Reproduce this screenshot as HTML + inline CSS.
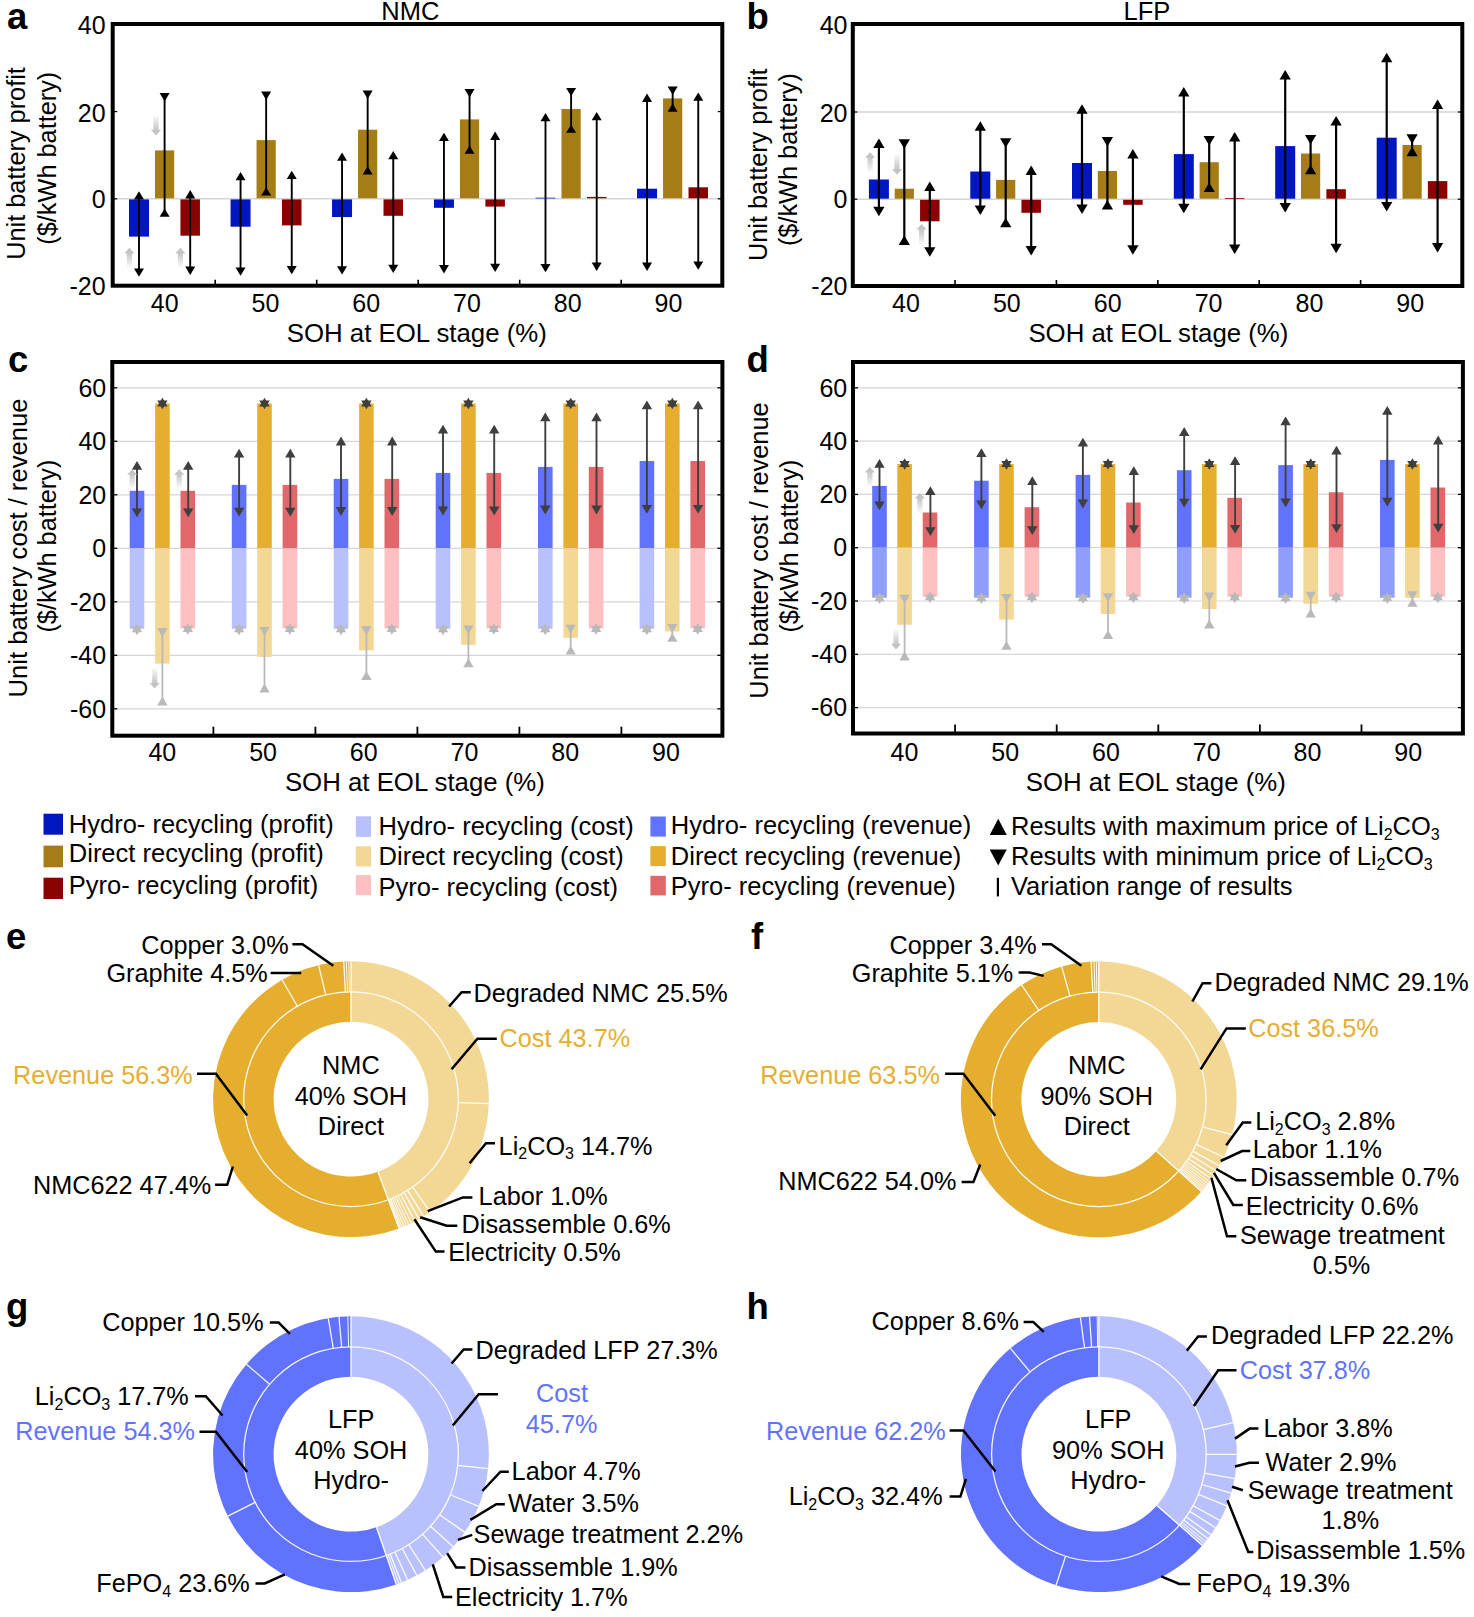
<!DOCTYPE html>
<html><head><meta charset="utf-8"><title>Figure</title>
<style>
html,body{margin:0;padding:0;background:#fff;}
body{width:1474px;height:1617px;overflow:hidden;}
svg{display:block;font-family:"Liberation Sans", sans-serif;}
</style></head>
<body>
<svg width="1474" height="1617" viewBox="0 0 1474 1617">
<rect width="1474" height="1617" fill="#fff"/>
<line x1="112.70" y1="198.80" x2="722.30" y2="198.80" stroke="#d6d6d6" stroke-width="1.4" />
<line x1="112.70" y1="111.60" x2="117.20" y2="111.60" stroke="#000" stroke-width="1.2" />
<line x1="717.80" y1="111.60" x2="722.30" y2="111.60" stroke="#000" stroke-width="1.2" />
<line x1="112.70" y1="198.80" x2="117.20" y2="198.80" stroke="#000" stroke-width="1.2" />
<line x1="717.80" y1="198.80" x2="722.30" y2="198.80" stroke="#000" stroke-width="1.2" />
<line x1="215.20" y1="279.70" x2="215.20" y2="285.70" stroke="#000" stroke-width="1.6" />
<line x1="316.70" y1="279.70" x2="316.70" y2="285.70" stroke="#000" stroke-width="1.6" />
<line x1="418.20" y1="279.70" x2="418.20" y2="285.70" stroke="#000" stroke-width="1.6" />
<line x1="519.70" y1="279.70" x2="519.70" y2="285.70" stroke="#000" stroke-width="1.6" />
<line x1="621.20" y1="279.70" x2="621.20" y2="285.70" stroke="#000" stroke-width="1.6" />
<rect x="129.00" y="199.40" width="20.00" height="37.20" fill="#0016c1" />
<rect x="155.00" y="150.40" width="19.20" height="47.90" fill="#a67c17" />
<rect x="180.45" y="199.40" width="19.50" height="36.30" fill="#8b0202" />
<line x1="139.00" y1="193.30" x2="139.00" y2="274.70" stroke="#000" stroke-width="1.9" />
<polygon points="139.00,191.30 144.00,199.60 134.00,199.60" fill="#000"/>
<polygon points="139.00,276.70 144.00,268.40 134.00,268.40" fill="#000"/>
<line x1="164.60" y1="94.10" x2="164.60" y2="215.70" stroke="#000" stroke-width="1.9" />
<polygon points="164.60,101.40 169.60,93.10 159.60,93.10" fill="#000"/>
<polygon points="164.60,208.40 169.60,216.70 159.60,216.70" fill="#000"/>
<line x1="190.20" y1="192.10" x2="190.20" y2="272.90" stroke="#000" stroke-width="1.9" />
<polygon points="190.20,190.10 195.20,198.40 185.20,198.40" fill="#000"/>
<polygon points="190.20,274.90 195.20,266.60 185.20,266.60" fill="#000"/>
<rect x="230.55" y="199.40" width="20.00" height="27.30" fill="#0016c1" />
<rect x="256.55" y="140.10" width="19.20" height="58.20" fill="#a67c17" />
<rect x="282.00" y="199.40" width="19.50" height="26.00" fill="#8b0202" />
<line x1="240.55" y1="173.90" x2="240.55" y2="273.70" stroke="#000" stroke-width="1.9" />
<polygon points="240.55,171.90 245.55,180.20 235.55,180.20" fill="#000"/>
<polygon points="240.55,275.70 245.55,267.40 235.55,267.40" fill="#000"/>
<line x1="266.15" y1="92.60" x2="266.15" y2="194.50" stroke="#000" stroke-width="1.9" />
<polygon points="266.15,99.90 271.15,91.60 261.15,91.60" fill="#000"/>
<polygon points="266.15,187.20 271.15,195.50 261.15,195.50" fill="#000"/>
<line x1="291.75" y1="172.70" x2="291.75" y2="272.20" stroke="#000" stroke-width="1.9" />
<polygon points="291.75,170.70 296.75,179.00 286.75,179.00" fill="#000"/>
<polygon points="291.75,274.20 296.75,265.90 286.75,265.90" fill="#000"/>
<rect x="332.05" y="199.40" width="20.00" height="17.60" fill="#0016c1" />
<rect x="358.05" y="129.70" width="19.20" height="68.60" fill="#a67c17" />
<rect x="383.50" y="199.40" width="19.50" height="16.40" fill="#8b0202" />
<line x1="342.05" y1="154.50" x2="342.05" y2="272.50" stroke="#000" stroke-width="1.9" />
<polygon points="342.05,152.50 347.05,160.80 337.05,160.80" fill="#000"/>
<polygon points="342.05,274.50 347.05,266.20 337.05,266.20" fill="#000"/>
<line x1="367.65" y1="91.60" x2="367.65" y2="173.60" stroke="#000" stroke-width="1.9" />
<polygon points="367.65,98.90 372.65,90.60 362.65,90.60" fill="#000"/>
<polygon points="367.65,166.30 372.65,174.60 362.65,174.60" fill="#000"/>
<line x1="393.25" y1="153.00" x2="393.25" y2="271.00" stroke="#000" stroke-width="1.9" />
<polygon points="393.25,151.00 398.25,159.30 388.25,159.30" fill="#000"/>
<polygon points="393.25,273.00 398.25,264.70 388.25,264.70" fill="#000"/>
<rect x="433.95" y="199.40" width="20.00" height="8.40" fill="#0016c1" />
<rect x="459.95" y="119.40" width="19.20" height="78.90" fill="#a67c17" />
<rect x="485.40" y="199.40" width="19.50" height="7.20" fill="#8b0202" />
<line x1="443.95" y1="134.70" x2="443.95" y2="271.40" stroke="#000" stroke-width="1.9" />
<polygon points="443.95,132.70 448.95,141.00 438.95,141.00" fill="#000"/>
<polygon points="443.95,273.40 448.95,265.10 438.95,265.10" fill="#000"/>
<line x1="469.55" y1="90.10" x2="469.55" y2="152.70" stroke="#000" stroke-width="1.9" />
<polygon points="469.55,97.40 474.55,89.10 464.55,89.10" fill="#000"/>
<polygon points="469.55,145.40 474.55,153.70 464.55,153.70" fill="#000"/>
<line x1="495.15" y1="133.60" x2="495.15" y2="270.00" stroke="#000" stroke-width="1.9" />
<polygon points="495.15,131.60 500.15,139.90 490.15,139.90" fill="#000"/>
<polygon points="495.15,272.00 500.15,263.70 490.15,263.70" fill="#000"/>
<rect x="535.50" y="197.70" width="20.00" height="0.80" fill="#0016c1" opacity="0.9"/>
<rect x="561.50" y="109.00" width="19.20" height="89.30" fill="#a67c17" />
<rect x="586.95" y="196.90" width="19.50" height="1.40" fill="#8b0202" />
<line x1="545.50" y1="115.00" x2="545.50" y2="270.20" stroke="#000" stroke-width="1.9" />
<polygon points="545.50,113.00 550.50,121.30 540.50,121.30" fill="#000"/>
<polygon points="545.50,272.20 550.50,263.90 540.50,263.90" fill="#000"/>
<line x1="571.10" y1="88.90" x2="571.10" y2="131.70" stroke="#000" stroke-width="1.9" />
<polygon points="571.10,96.20 576.10,87.90 566.10,87.90" fill="#000"/>
<polygon points="571.10,124.40 576.10,132.70 566.10,132.70" fill="#000"/>
<line x1="596.70" y1="114.00" x2="596.70" y2="268.90" stroke="#000" stroke-width="1.9" />
<polygon points="596.70,112.00 601.70,120.30 591.70,120.30" fill="#000"/>
<polygon points="596.70,270.90 601.70,262.60 591.70,262.60" fill="#000"/>
<rect x="637.05" y="188.70" width="20.00" height="9.60" fill="#0016c1" />
<rect x="663.05" y="98.40" width="19.20" height="99.90" fill="#a67c17" />
<rect x="688.50" y="187.30" width="19.50" height="11.00" fill="#8b0202" />
<line x1="647.05" y1="95.60" x2="647.05" y2="268.90" stroke="#000" stroke-width="1.9" />
<polygon points="647.05,93.60 652.05,101.90 642.05,101.90" fill="#000"/>
<polygon points="647.05,270.90 652.05,262.60 642.05,262.60" fill="#000"/>
<line x1="672.65" y1="87.60" x2="672.65" y2="110.80" stroke="#000" stroke-width="1.9" />
<polygon points="672.65,94.90 677.65,86.60 667.65,86.60" fill="#000"/>
<polygon points="672.65,103.50 677.65,111.80 667.65,111.80" fill="#000"/>
<line x1="698.25" y1="94.40" x2="698.25" y2="267.70" stroke="#000" stroke-width="1.9" />
<polygon points="698.25,92.40 703.25,100.70 693.25,100.70" fill="#000"/>
<polygon points="698.25,269.70 703.25,261.40 693.25,261.40" fill="#000"/>
<rect x="112.7" y="24.0" width="609.60" height="261.70" fill="none" stroke="#000" stroke-width="4"/>
<line x1="852.80" y1="112.00" x2="1462.30" y2="112.00" stroke="#d6d6d6" stroke-width="1.4" />
<line x1="852.80" y1="199.20" x2="1462.30" y2="199.20" stroke="#d6d6d6" stroke-width="1.4" />
<line x1="852.80" y1="112.00" x2="857.30" y2="112.00" stroke="#000" stroke-width="1.2" />
<line x1="1457.80" y1="112.00" x2="1462.30" y2="112.00" stroke="#000" stroke-width="1.2" />
<line x1="852.80" y1="199.20" x2="857.30" y2="199.20" stroke="#000" stroke-width="1.2" />
<line x1="1457.80" y1="199.20" x2="1462.30" y2="199.20" stroke="#000" stroke-width="1.2" />
<line x1="955.00" y1="280.00" x2="955.00" y2="286.00" stroke="#000" stroke-width="1.6" />
<line x1="1056.40" y1="280.00" x2="1056.40" y2="286.00" stroke="#000" stroke-width="1.6" />
<line x1="1157.80" y1="280.00" x2="1157.80" y2="286.00" stroke="#000" stroke-width="1.6" />
<line x1="1259.20" y1="280.00" x2="1259.20" y2="286.00" stroke="#000" stroke-width="1.6" />
<line x1="1360.60" y1="280.00" x2="1360.60" y2="286.00" stroke="#000" stroke-width="1.6" />
<rect x="868.90" y="179.50" width="20.00" height="19.20" fill="#0016c1" />
<rect x="894.70" y="188.70" width="19.20" height="10.00" fill="#a67c17" />
<rect x="920.05" y="199.80" width="19.50" height="21.50" fill="#8b0202" />
<line x1="878.90" y1="140.50" x2="878.90" y2="214.20" stroke="#000" stroke-width="2.2" />
<polygon points="878.90,138.50 884.55,148.00 873.25,148.00" fill="#000"/>
<polygon points="878.90,216.20 884.55,206.70 873.25,206.70" fill="#000"/>
<line x1="904.30" y1="140.30" x2="904.30" y2="244.10" stroke="#000" stroke-width="2.2" />
<polygon points="904.30,148.80 909.95,139.30 898.65,139.30" fill="#000"/>
<polygon points="904.30,235.60 909.95,245.10 898.65,245.10" fill="#000"/>
<line x1="929.80" y1="183.60" x2="929.80" y2="254.70" stroke="#000" stroke-width="2.2" />
<polygon points="929.80,181.60 935.45,191.10 924.15,191.10" fill="#000"/>
<polygon points="929.80,256.70 935.45,247.20 924.15,247.20" fill="#000"/>
<rect x="970.30" y="171.50" width="20.00" height="27.20" fill="#0016c1" />
<rect x="996.10" y="179.90" width="19.20" height="18.80" fill="#a67c17" />
<rect x="1021.45" y="199.80" width="19.50" height="13.00" fill="#8b0202" />
<line x1="980.30" y1="123.30" x2="980.30" y2="212.90" stroke="#000" stroke-width="2.2" />
<polygon points="980.30,121.30 985.95,130.80 974.65,130.80" fill="#000"/>
<polygon points="980.30,214.90 985.95,205.40 974.65,205.40" fill="#000"/>
<line x1="1005.70" y1="139.20" x2="1005.70" y2="226.30" stroke="#000" stroke-width="2.2" />
<polygon points="1005.70,147.70 1011.35,138.20 1000.05,138.20" fill="#000"/>
<polygon points="1005.70,217.80 1011.35,227.30 1000.05,227.30" fill="#000"/>
<line x1="1031.20" y1="167.60" x2="1031.20" y2="253.60" stroke="#000" stroke-width="2.2" />
<polygon points="1031.20,165.60 1036.85,175.10 1025.55,175.10" fill="#000"/>
<polygon points="1031.20,255.60 1036.85,246.10 1025.55,246.10" fill="#000"/>
<rect x="1072.00" y="163.00" width="20.00" height="35.70" fill="#0016c1" />
<rect x="1097.80" y="171.00" width="19.20" height="27.70" fill="#a67c17" />
<rect x="1123.15" y="199.80" width="19.50" height="5.00" fill="#8b0202" />
<line x1="1082.00" y1="106.30" x2="1082.00" y2="212.10" stroke="#000" stroke-width="2.2" />
<polygon points="1082.00,104.30 1087.65,113.80 1076.35,113.80" fill="#000"/>
<polygon points="1082.00,214.10 1087.65,204.60 1076.35,204.60" fill="#000"/>
<line x1="1107.40" y1="137.90" x2="1107.40" y2="208.60" stroke="#000" stroke-width="2.2" />
<polygon points="1107.40,146.40 1113.05,136.90 1101.75,136.90" fill="#000"/>
<polygon points="1107.40,200.10 1113.05,209.60 1101.75,209.60" fill="#000"/>
<line x1="1132.90" y1="151.00" x2="1132.90" y2="252.80" stroke="#000" stroke-width="2.2" />
<polygon points="1132.90,149.00 1138.55,158.50 1127.25,158.50" fill="#000"/>
<polygon points="1132.90,254.80 1138.55,245.30 1127.25,245.30" fill="#000"/>
<rect x="1173.80" y="154.10" width="20.00" height="44.60" fill="#0016c1" />
<rect x="1199.60" y="162.20" width="19.20" height="36.50" fill="#a67c17" />
<rect x="1224.95" y="198.00" width="19.50" height="0.90" fill="#8b0202" opacity="0.9"/>
<line x1="1183.80" y1="89.10" x2="1183.80" y2="211.30" stroke="#000" stroke-width="2.2" />
<polygon points="1183.80,87.10 1189.45,96.60 1178.15,96.60" fill="#000"/>
<polygon points="1183.80,213.30 1189.45,203.80 1178.15,203.80" fill="#000"/>
<line x1="1209.20" y1="137.10" x2="1209.20" y2="190.90" stroke="#000" stroke-width="2.2" />
<polygon points="1209.20,145.60 1214.85,136.10 1203.55,136.10" fill="#000"/>
<polygon points="1209.20,182.40 1214.85,191.90 1203.55,191.90" fill="#000"/>
<line x1="1234.70" y1="134.10" x2="1234.70" y2="252.00" stroke="#000" stroke-width="2.2" />
<polygon points="1234.70,132.10 1240.35,141.60 1229.05,141.60" fill="#000"/>
<polygon points="1234.70,254.00 1240.35,244.50 1229.05,244.50" fill="#000"/>
<rect x="1275.20" y="146.10" width="20.00" height="52.60" fill="#0016c1" />
<rect x="1301.00" y="153.50" width="19.20" height="45.20" fill="#a67c17" />
<rect x="1326.35" y="189.20" width="19.50" height="9.50" fill="#8b0202" />
<line x1="1285.20" y1="71.90" x2="1285.20" y2="210.50" stroke="#000" stroke-width="2.2" />
<polygon points="1285.20,69.90 1290.85,79.40 1279.55,79.40" fill="#000"/>
<polygon points="1285.20,212.50 1290.85,203.00 1279.55,203.00" fill="#000"/>
<line x1="1310.60" y1="136.00" x2="1310.60" y2="173.20" stroke="#000" stroke-width="2.2" />
<polygon points="1310.60,144.50 1316.25,135.00 1304.95,135.00" fill="#000"/>
<polygon points="1310.60,164.70 1316.25,174.20 1304.95,174.20" fill="#000"/>
<line x1="1336.10" y1="118.00" x2="1336.10" y2="251.20" stroke="#000" stroke-width="2.2" />
<polygon points="1336.10,116.00 1341.75,125.50 1330.45,125.50" fill="#000"/>
<polygon points="1336.10,253.20 1341.75,243.70 1330.45,243.70" fill="#000"/>
<rect x="1376.70" y="137.70" width="20.00" height="61.00" fill="#0016c1" />
<rect x="1402.50" y="145.00" width="19.20" height="53.70" fill="#a67c17" />
<rect x="1427.85" y="181.10" width="19.50" height="17.60" fill="#8b0202" />
<line x1="1386.70" y1="54.80" x2="1386.70" y2="209.40" stroke="#000" stroke-width="2.2" />
<polygon points="1386.70,52.80 1392.35,62.30 1381.05,62.30" fill="#000"/>
<polygon points="1386.70,211.40 1392.35,201.90 1381.05,201.90" fill="#000"/>
<line x1="1412.10" y1="135.20" x2="1412.10" y2="155.20" stroke="#000" stroke-width="2.2" />
<polygon points="1412.10,143.70 1417.75,134.20 1406.45,134.20" fill="#000"/>
<polygon points="1412.10,146.70 1417.75,156.20 1406.45,156.20" fill="#000"/>
<line x1="1437.60" y1="101.50" x2="1437.60" y2="250.40" stroke="#000" stroke-width="2.2" />
<polygon points="1437.60,99.50 1443.25,109.00 1431.95,109.00" fill="#000"/>
<polygon points="1437.60,252.40 1443.25,242.90 1431.95,242.90" fill="#000"/>
<rect x="852.8" y="24.0" width="609.50" height="262.00" fill="none" stroke="#000" stroke-width="4"/>
<linearGradient id="ga1" gradientUnits="userSpaceOnUse" x1="0" y1="115.20" x2="0" y2="135.40"><stop offset="0" stop-color="#c4c4c4" stop-opacity="0.05"/><stop offset="0.75" stop-color="#c4c4c4" stop-opacity="1"/><stop offset="1" stop-color="#c4c4c4" stop-opacity="1"/></linearGradient>
<polygon points="153.40,115.20 153.40,129.80 150.90,129.80 156.00,135.40 161.10,129.80 158.60,129.80 158.60,115.20" fill="url(#ga1)"/>
<linearGradient id="ga2" gradientUnits="userSpaceOnUse" x1="0" y1="267.80" x2="0" y2="247.80"><stop offset="0" stop-color="#c4c4c4" stop-opacity="0.05"/><stop offset="0.75" stop-color="#c4c4c4" stop-opacity="1"/><stop offset="1" stop-color="#c4c4c4" stop-opacity="1"/></linearGradient>
<polygon points="126.80,267.80 126.80,253.40 124.30,253.40 129.40,247.80 134.50,253.40 132.00,253.40 132.00,267.80" fill="url(#ga2)"/>
<linearGradient id="ga3" gradientUnits="userSpaceOnUse" x1="0" y1="267.80" x2="0" y2="247.80"><stop offset="0" stop-color="#c4c4c4" stop-opacity="0.05"/><stop offset="0.75" stop-color="#c4c4c4" stop-opacity="1"/><stop offset="1" stop-color="#c4c4c4" stop-opacity="1"/></linearGradient>
<polygon points="177.80,267.80 177.80,253.40 175.30,253.40 180.40,247.80 185.50,253.40 183.00,253.40 183.00,267.80" fill="url(#ga3)"/>
<linearGradient id="gb1" gradientUnits="userSpaceOnUse" x1="0" y1="172.80" x2="0" y2="152.20"><stop offset="0" stop-color="#c4c4c4" stop-opacity="0.05"/><stop offset="0.75" stop-color="#c4c4c4" stop-opacity="1"/><stop offset="1" stop-color="#c4c4c4" stop-opacity="1"/></linearGradient>
<polygon points="867.50,172.80 867.50,157.80 865.00,157.80 870.10,152.20 875.20,157.80 872.70,157.80 872.70,172.80" fill="url(#gb1)"/>
<linearGradient id="gb2" gradientUnits="userSpaceOnUse" x1="0" y1="153.80" x2="0" y2="174.70"><stop offset="0" stop-color="#c4c4c4" stop-opacity="0.05"/><stop offset="0.75" stop-color="#c4c4c4" stop-opacity="1"/><stop offset="1" stop-color="#c4c4c4" stop-opacity="1"/></linearGradient>
<polygon points="894.40,153.80 894.40,169.10 891.90,169.10 897.00,174.70 902.10,169.10 899.60,169.10 899.60,153.80" fill="url(#gb2)"/>
<linearGradient id="gb3" gradientUnits="userSpaceOnUse" x1="0" y1="244.70" x2="0" y2="224.00"><stop offset="0" stop-color="#c4c4c4" stop-opacity="0.05"/><stop offset="0.75" stop-color="#c4c4c4" stop-opacity="1"/><stop offset="1" stop-color="#c4c4c4" stop-opacity="1"/></linearGradient>
<polygon points="919.00,244.70 919.00,229.60 916.50,229.60 921.60,224.00 926.70,229.60 924.20,229.60 924.20,244.70" fill="url(#gb3)"/>
<line x1="112.30" y1="387.80" x2="722.40" y2="387.80" stroke="#d6d6d6" stroke-width="1.35" />
<line x1="112.30" y1="441.30" x2="722.40" y2="441.30" stroke="#d6d6d6" stroke-width="1.35" />
<line x1="112.30" y1="494.80" x2="722.40" y2="494.80" stroke="#d6d6d6" stroke-width="1.35" />
<line x1="112.30" y1="548.30" x2="722.40" y2="548.30" stroke="#d6d6d6" stroke-width="1.35" />
<line x1="112.30" y1="601.80" x2="722.40" y2="601.80" stroke="#d6d6d6" stroke-width="1.35" />
<line x1="112.30" y1="655.30" x2="722.40" y2="655.30" stroke="#d6d6d6" stroke-width="1.35" />
<line x1="112.30" y1="708.80" x2="722.40" y2="708.80" stroke="#d6d6d6" stroke-width="1.35" />
<rect x="129.70" y="490.80" width="14.60" height="57.50" fill="#6173fc" />
<rect x="155.10" y="403.50" width="14.60" height="144.80" fill="#e6ae2f" />
<rect x="180.50" y="490.80" width="14.60" height="57.50" fill="#e0686a" />
<rect x="129.70" y="548.30" width="14.60" height="80.50" fill="#b8c1fd" />
<rect x="155.10" y="548.30" width="14.60" height="115.30" fill="#f3d795" />
<rect x="180.50" y="548.30" width="14.60" height="80.10" fill="#fdbfbf" />
<line x1="137.00" y1="463.00" x2="137.00" y2="515.20" stroke="#3f3f3f" stroke-width="1.9" />
<polygon points="137.00,461.00 142.20,469.80 131.80,469.80" fill="#3f3f3f"/>
<polygon points="137.00,517.20 142.20,508.40 131.80,508.40" fill="#3f3f3f"/>
<line x1="188.20" y1="463.00" x2="188.20" y2="515.20" stroke="#3f3f3f" stroke-width="1.9" />
<polygon points="188.20,461.00 193.40,469.80 183.00,469.80" fill="#3f3f3f"/>
<polygon points="188.20,517.20 193.40,508.40 183.00,508.40" fill="#3f3f3f"/>
<polygon points="162.40,397.65 167.60,406.45 157.20,406.45" fill="#3f3f3f"/>
<polygon points="162.40,409.35 167.60,400.55 157.20,400.55" fill="#3f3f3f"/>
<polygon points="137.00,623.45 142.20,632.25 131.80,632.25" fill="#b9b9b9"/>
<polygon points="137.00,635.15 142.20,626.35 131.80,626.35" fill="#b9b9b9"/>
<polygon points="187.80,623.15 193.00,631.95 182.60,631.95" fill="#b9b9b9"/>
<polygon points="187.80,634.85 193.00,626.05 182.60,626.05" fill="#b9b9b9"/>
<line x1="162.40" y1="629.00" x2="162.40" y2="704.40" stroke="#b9b9b9" stroke-width="1.8" />
<polygon points="162.40,636.80 167.60,628.00 157.20,628.00" fill="#b9b9b9"/>
<polygon points="162.40,696.60 167.60,705.40 157.20,705.40" fill="#b9b9b9"/>
<rect x="231.80" y="484.90" width="14.60" height="63.40" fill="#6173fc" />
<rect x="257.20" y="403.50" width="14.60" height="144.80" fill="#e6ae2f" />
<rect x="282.60" y="484.90" width="14.60" height="63.40" fill="#e0686a" />
<rect x="231.80" y="548.30" width="14.60" height="80.50" fill="#b8c1fd" />
<rect x="257.20" y="548.30" width="14.60" height="108.60" fill="#f3d795" />
<rect x="282.60" y="548.30" width="14.60" height="80.10" fill="#fdbfbf" />
<line x1="239.10" y1="450.70" x2="239.10" y2="514.60" stroke="#3f3f3f" stroke-width="1.9" />
<polygon points="239.10,448.70 244.30,457.50 233.90,457.50" fill="#3f3f3f"/>
<polygon points="239.10,516.60 244.30,507.80 233.90,507.80" fill="#3f3f3f"/>
<line x1="290.30" y1="450.70" x2="290.30" y2="514.60" stroke="#3f3f3f" stroke-width="1.9" />
<polygon points="290.30,448.70 295.50,457.50 285.10,457.50" fill="#3f3f3f"/>
<polygon points="290.30,516.60 295.50,507.80 285.10,507.80" fill="#3f3f3f"/>
<polygon points="264.50,397.65 269.70,406.45 259.30,406.45" fill="#3f3f3f"/>
<polygon points="264.50,409.35 269.70,400.55 259.30,400.55" fill="#3f3f3f"/>
<polygon points="239.10,623.45 244.30,632.25 233.90,632.25" fill="#b9b9b9"/>
<polygon points="239.10,635.15 244.30,626.35 233.90,626.35" fill="#b9b9b9"/>
<polygon points="289.90,623.15 295.10,631.95 284.70,631.95" fill="#b9b9b9"/>
<polygon points="289.90,634.85 295.10,626.05 284.70,626.05" fill="#b9b9b9"/>
<line x1="264.50" y1="628.00" x2="264.50" y2="691.50" stroke="#b9b9b9" stroke-width="1.8" />
<polygon points="264.50,635.80 269.70,627.00 259.30,627.00" fill="#b9b9b9"/>
<polygon points="264.50,683.70 269.70,692.50 259.30,692.50" fill="#b9b9b9"/>
<rect x="333.70" y="478.90" width="14.60" height="69.40" fill="#6173fc" />
<rect x="359.10" y="403.50" width="14.60" height="144.80" fill="#e6ae2f" />
<rect x="384.50" y="478.90" width="14.60" height="69.40" fill="#e0686a" />
<rect x="333.70" y="548.30" width="14.60" height="80.50" fill="#b8c1fd" />
<rect x="359.10" y="548.30" width="14.60" height="102.10" fill="#f3d795" />
<rect x="384.50" y="548.30" width="14.60" height="80.10" fill="#fdbfbf" />
<line x1="341.00" y1="438.60" x2="341.00" y2="513.90" stroke="#3f3f3f" stroke-width="1.9" />
<polygon points="341.00,436.60 346.20,445.40 335.80,445.40" fill="#3f3f3f"/>
<polygon points="341.00,515.90 346.20,507.10 335.80,507.10" fill="#3f3f3f"/>
<line x1="392.20" y1="438.60" x2="392.20" y2="513.90" stroke="#3f3f3f" stroke-width="1.9" />
<polygon points="392.20,436.60 397.40,445.40 387.00,445.40" fill="#3f3f3f"/>
<polygon points="392.20,515.90 397.40,507.10 387.00,507.10" fill="#3f3f3f"/>
<polygon points="366.40,397.65 371.60,406.45 361.20,406.45" fill="#3f3f3f"/>
<polygon points="366.40,409.35 371.60,400.55 361.20,400.55" fill="#3f3f3f"/>
<polygon points="341.00,623.45 346.20,632.25 335.80,632.25" fill="#b9b9b9"/>
<polygon points="341.00,635.15 346.20,626.35 335.80,626.35" fill="#b9b9b9"/>
<polygon points="391.80,623.15 397.00,631.95 386.60,631.95" fill="#b9b9b9"/>
<polygon points="391.80,634.85 397.00,626.05 386.60,626.05" fill="#b9b9b9"/>
<line x1="366.40" y1="627.30" x2="366.40" y2="678.90" stroke="#b9b9b9" stroke-width="1.8" />
<polygon points="366.40,635.10 371.60,626.30 361.20,626.30" fill="#b9b9b9"/>
<polygon points="366.40,671.10 371.60,679.90 361.20,679.90" fill="#b9b9b9"/>
<rect x="435.70" y="472.90" width="14.60" height="75.40" fill="#6173fc" />
<rect x="461.10" y="403.50" width="14.60" height="144.80" fill="#e6ae2f" />
<rect x="486.50" y="472.90" width="14.60" height="75.40" fill="#e0686a" />
<rect x="435.70" y="548.30" width="14.60" height="80.50" fill="#b8c1fd" />
<rect x="461.10" y="548.30" width="14.60" height="96.50" fill="#f3d795" />
<rect x="486.50" y="548.30" width="14.60" height="80.10" fill="#fdbfbf" />
<line x1="443.00" y1="426.70" x2="443.00" y2="513.40" stroke="#3f3f3f" stroke-width="1.9" />
<polygon points="443.00,424.70 448.20,433.50 437.80,433.50" fill="#3f3f3f"/>
<polygon points="443.00,515.40 448.20,506.60 437.80,506.60" fill="#3f3f3f"/>
<line x1="494.20" y1="426.70" x2="494.20" y2="513.40" stroke="#3f3f3f" stroke-width="1.9" />
<polygon points="494.20,424.70 499.40,433.50 489.00,433.50" fill="#3f3f3f"/>
<polygon points="494.20,515.40 499.40,506.60 489.00,506.60" fill="#3f3f3f"/>
<polygon points="468.40,397.65 473.60,406.45 463.20,406.45" fill="#3f3f3f"/>
<polygon points="468.40,409.35 473.60,400.55 463.20,400.55" fill="#3f3f3f"/>
<polygon points="443.00,623.45 448.20,632.25 437.80,632.25" fill="#b9b9b9"/>
<polygon points="443.00,635.15 448.20,626.35 437.80,626.35" fill="#b9b9b9"/>
<polygon points="493.80,623.15 499.00,631.95 488.60,631.95" fill="#b9b9b9"/>
<polygon points="493.80,634.85 499.00,626.05 488.60,626.05" fill="#b9b9b9"/>
<line x1="468.40" y1="626.50" x2="468.40" y2="666.20" stroke="#b9b9b9" stroke-width="1.8" />
<polygon points="468.40,634.30 473.60,625.50 463.20,625.50" fill="#b9b9b9"/>
<polygon points="468.40,658.40 473.60,667.20 463.20,667.20" fill="#b9b9b9"/>
<rect x="538.00" y="466.90" width="14.60" height="81.40" fill="#6173fc" />
<rect x="563.40" y="403.50" width="14.60" height="144.80" fill="#e6ae2f" />
<rect x="588.80" y="466.90" width="14.60" height="81.40" fill="#e0686a" />
<rect x="538.00" y="548.30" width="14.60" height="80.50" fill="#b8c1fd" />
<rect x="563.40" y="548.30" width="14.60" height="89.50" fill="#f3d795" />
<rect x="588.80" y="548.30" width="14.60" height="80.10" fill="#fdbfbf" />
<line x1="545.30" y1="414.50" x2="545.30" y2="512.40" stroke="#3f3f3f" stroke-width="1.9" />
<polygon points="545.30,412.50 550.50,421.30 540.10,421.30" fill="#3f3f3f"/>
<polygon points="545.30,514.40 550.50,505.60 540.10,505.60" fill="#3f3f3f"/>
<line x1="596.50" y1="414.50" x2="596.50" y2="512.40" stroke="#3f3f3f" stroke-width="1.9" />
<polygon points="596.50,412.50 601.70,421.30 591.30,421.30" fill="#3f3f3f"/>
<polygon points="596.50,514.40 601.70,505.60 591.30,505.60" fill="#3f3f3f"/>
<polygon points="570.70,397.65 575.90,406.45 565.50,406.45" fill="#3f3f3f"/>
<polygon points="570.70,409.35 575.90,400.55 565.50,400.55" fill="#3f3f3f"/>
<polygon points="545.30,623.45 550.50,632.25 540.10,632.25" fill="#b9b9b9"/>
<polygon points="545.30,635.15 550.50,626.35 540.10,626.35" fill="#b9b9b9"/>
<polygon points="596.10,623.15 601.30,631.95 590.90,631.95" fill="#b9b9b9"/>
<polygon points="596.10,634.85 601.30,626.05 590.90,626.05" fill="#b9b9b9"/>
<line x1="570.70" y1="625.80" x2="570.70" y2="653.60" stroke="#b9b9b9" stroke-width="1.8" />
<polygon points="570.70,633.60 575.90,624.80 565.50,624.80" fill="#b9b9b9"/>
<polygon points="570.70,645.80 575.90,654.60 565.50,654.60" fill="#b9b9b9"/>
<rect x="639.60" y="461.00" width="14.60" height="87.30" fill="#6173fc" />
<rect x="665.00" y="403.50" width="14.60" height="144.80" fill="#e6ae2f" />
<rect x="690.40" y="461.00" width="14.60" height="87.30" fill="#e0686a" />
<rect x="639.60" y="548.30" width="14.60" height="80.50" fill="#b8c1fd" />
<rect x="665.00" y="548.30" width="14.60" height="83.20" fill="#f3d795" />
<rect x="690.40" y="548.30" width="14.60" height="80.10" fill="#fdbfbf" />
<line x1="646.90" y1="402.50" x2="646.90" y2="511.70" stroke="#3f3f3f" stroke-width="1.9" />
<polygon points="646.90,400.50 652.10,409.30 641.70,409.30" fill="#3f3f3f"/>
<polygon points="646.90,513.70 652.10,504.90 641.70,504.90" fill="#3f3f3f"/>
<line x1="698.10" y1="402.50" x2="698.10" y2="511.70" stroke="#3f3f3f" stroke-width="1.9" />
<polygon points="698.10,400.50 703.30,409.30 692.90,409.30" fill="#3f3f3f"/>
<polygon points="698.10,513.70 703.30,504.90 692.90,504.90" fill="#3f3f3f"/>
<polygon points="672.30,397.65 677.50,406.45 667.10,406.45" fill="#3f3f3f"/>
<polygon points="672.30,409.35 677.50,400.55 667.10,400.55" fill="#3f3f3f"/>
<polygon points="646.90,623.45 652.10,632.25 641.70,632.25" fill="#b9b9b9"/>
<polygon points="646.90,635.15 652.10,626.35 641.70,626.35" fill="#b9b9b9"/>
<polygon points="697.70,623.15 702.90,631.95 692.50,631.95" fill="#b9b9b9"/>
<polygon points="697.70,634.85 702.90,626.05 692.50,626.05" fill="#b9b9b9"/>
<line x1="672.30" y1="625.00" x2="672.30" y2="640.80" stroke="#b9b9b9" stroke-width="1.8" />
<polygon points="672.30,632.80 677.50,624.00 667.10,624.00" fill="#b9b9b9"/>
<polygon points="672.30,633.00 677.50,641.80 667.10,641.80" fill="#b9b9b9"/>
<line x1="112.30" y1="387.80" x2="117.30" y2="387.80" stroke="#000" stroke-width="1.3" />
<line x1="717.40" y1="387.80" x2="722.40" y2="387.80" stroke="#000" stroke-width="1.3" />
<line x1="112.30" y1="441.30" x2="117.30" y2="441.30" stroke="#000" stroke-width="1.3" />
<line x1="717.40" y1="441.30" x2="722.40" y2="441.30" stroke="#000" stroke-width="1.3" />
<line x1="112.30" y1="494.80" x2="117.30" y2="494.80" stroke="#000" stroke-width="1.3" />
<line x1="717.40" y1="494.80" x2="722.40" y2="494.80" stroke="#000" stroke-width="1.3" />
<line x1="112.30" y1="548.30" x2="117.30" y2="548.30" stroke="#000" stroke-width="1.3" />
<line x1="717.40" y1="548.30" x2="722.40" y2="548.30" stroke="#000" stroke-width="1.3" />
<line x1="112.30" y1="601.80" x2="117.30" y2="601.80" stroke="#000" stroke-width="1.3" />
<line x1="717.40" y1="601.80" x2="722.40" y2="601.80" stroke="#000" stroke-width="1.3" />
<line x1="112.30" y1="655.30" x2="117.30" y2="655.30" stroke="#000" stroke-width="1.3" />
<line x1="717.40" y1="655.30" x2="722.40" y2="655.30" stroke="#000" stroke-width="1.3" />
<line x1="112.30" y1="708.80" x2="117.30" y2="708.80" stroke="#000" stroke-width="1.3" />
<line x1="717.40" y1="708.80" x2="722.40" y2="708.80" stroke="#000" stroke-width="1.3" />
<line x1="213.40" y1="726.70" x2="213.40" y2="735.70" stroke="#000" stroke-width="1.8" />
<line x1="315.40" y1="726.70" x2="315.40" y2="735.70" stroke="#000" stroke-width="1.8" />
<line x1="417.40" y1="726.70" x2="417.40" y2="735.70" stroke="#000" stroke-width="1.8" />
<line x1="519.40" y1="726.70" x2="519.40" y2="735.70" stroke="#000" stroke-width="1.8" />
<line x1="621.40" y1="726.70" x2="621.40" y2="735.70" stroke="#000" stroke-width="1.8" />
<rect x="112.3" y="362.0" width="610.10" height="373.70" fill="none" stroke="#000" stroke-width="4"/>
<line x1="853.00" y1="387.80" x2="1462.90" y2="387.80" stroke="#d6d6d6" stroke-width="1.2" />
<line x1="853.00" y1="441.10" x2="1462.90" y2="441.10" stroke="#d6d6d6" stroke-width="1.2" />
<line x1="853.00" y1="494.40" x2="1462.90" y2="494.40" stroke="#d6d6d6" stroke-width="1.2" />
<line x1="853.00" y1="547.70" x2="1462.90" y2="547.70" stroke="#d6d6d6" stroke-width="1.2" />
<line x1="853.00" y1="601.00" x2="1462.90" y2="601.00" stroke="#d6d6d6" stroke-width="1.2" />
<line x1="853.00" y1="654.30" x2="1462.90" y2="654.30" stroke="#d6d6d6" stroke-width="1.2" />
<line x1="853.00" y1="707.60" x2="1462.90" y2="707.60" stroke="#d6d6d6" stroke-width="1.2" />
<rect x="872.20" y="485.90" width="14.60" height="61.80" fill="#6173fc" />
<rect x="897.30" y="464.00" width="14.60" height="83.70" fill="#e6ae2f" />
<rect x="922.70" y="512.50" width="14.60" height="35.20" fill="#e0686a" />
<rect x="872.20" y="547.70" width="14.60" height="50.00" fill="#8f9dfd" />
<rect x="897.30" y="547.70" width="14.60" height="77.10" fill="#f3d795" />
<rect x="922.70" y="547.70" width="14.60" height="49.00" fill="#fdbfbf" />
<line x1="879.50" y1="461.00" x2="879.50" y2="508.20" stroke="#3f3f3f" stroke-width="1.9" />
<polygon points="879.50,459.00 884.70,467.80 874.30,467.80" fill="#3f3f3f"/>
<polygon points="879.50,510.20 884.70,501.40 874.30,501.40" fill="#3f3f3f"/>
<line x1="930.40" y1="488.30" x2="930.40" y2="534.00" stroke="#3f3f3f" stroke-width="1.9" />
<polygon points="930.40,486.30 935.60,495.10 925.20,495.10" fill="#3f3f3f"/>
<polygon points="930.40,536.00 935.60,527.20 925.20,527.20" fill="#3f3f3f"/>
<polygon points="904.60,458.15 909.80,466.95 899.40,466.95" fill="#3f3f3f"/>
<polygon points="904.60,469.85 909.80,461.05 899.40,461.05" fill="#3f3f3f"/>
<polygon points="879.50,592.35 884.70,601.15 874.30,601.15" fill="#b9b9b9"/>
<polygon points="879.50,604.05 884.70,595.25 874.30,595.25" fill="#b9b9b9"/>
<polygon points="930.00,591.55 935.20,600.35 924.80,600.35" fill="#b9b9b9"/>
<polygon points="930.00,603.25 935.20,594.45 924.80,594.45" fill="#b9b9b9"/>
<line x1="904.60" y1="595.80" x2="904.60" y2="659.40" stroke="#b9b9b9" stroke-width="1.8" />
<polygon points="904.60,603.60 909.80,594.80 899.40,594.80" fill="#b9b9b9"/>
<polygon points="904.60,651.60 909.80,660.40 899.40,660.40" fill="#b9b9b9"/>
<rect x="974.10" y="480.70" width="14.60" height="67.00" fill="#6173fc" />
<rect x="999.20" y="464.00" width="14.60" height="83.70" fill="#e6ae2f" />
<rect x="1024.60" y="507.20" width="14.60" height="40.50" fill="#e0686a" />
<rect x="974.10" y="547.70" width="14.60" height="50.00" fill="#8f9dfd" />
<rect x="999.20" y="547.70" width="14.60" height="71.90" fill="#f3d795" />
<rect x="1024.60" y="547.70" width="14.60" height="49.00" fill="#fdbfbf" />
<line x1="981.40" y1="450.30" x2="981.40" y2="507.20" stroke="#3f3f3f" stroke-width="1.9" />
<polygon points="981.40,448.30 986.60,457.10 976.20,457.10" fill="#3f3f3f"/>
<polygon points="981.40,509.20 986.60,500.40 976.20,500.40" fill="#3f3f3f"/>
<line x1="1032.30" y1="478.20" x2="1032.30" y2="533.10" stroke="#3f3f3f" stroke-width="1.9" />
<polygon points="1032.30,476.20 1037.50,485.00 1027.10,485.00" fill="#3f3f3f"/>
<polygon points="1032.30,535.10 1037.50,526.30 1027.10,526.30" fill="#3f3f3f"/>
<polygon points="1006.50,458.15 1011.70,466.95 1001.30,466.95" fill="#3f3f3f"/>
<polygon points="1006.50,469.85 1011.70,461.05 1001.30,461.05" fill="#3f3f3f"/>
<polygon points="981.40,592.35 986.60,601.15 976.20,601.15" fill="#b9b9b9"/>
<polygon points="981.40,604.05 986.60,595.25 976.20,595.25" fill="#b9b9b9"/>
<polygon points="1031.90,591.55 1037.10,600.35 1026.70,600.35" fill="#b9b9b9"/>
<polygon points="1031.90,603.25 1037.10,594.45 1026.70,594.45" fill="#b9b9b9"/>
<line x1="1006.50" y1="595.00" x2="1006.50" y2="648.70" stroke="#b9b9b9" stroke-width="1.8" />
<polygon points="1006.50,602.80 1011.70,594.00 1001.30,594.00" fill="#b9b9b9"/>
<polygon points="1006.50,640.90 1011.70,649.70 1001.30,649.70" fill="#b9b9b9"/>
<rect x="1075.60" y="474.90" width="14.60" height="72.80" fill="#6173fc" />
<rect x="1100.70" y="464.00" width="14.60" height="83.70" fill="#e6ae2f" />
<rect x="1126.10" y="502.50" width="14.60" height="45.20" fill="#e0686a" />
<rect x="1075.60" y="547.70" width="14.60" height="50.00" fill="#8f9dfd" />
<rect x="1100.70" y="547.70" width="14.60" height="66.20" fill="#f3d795" />
<rect x="1126.10" y="547.70" width="14.60" height="49.00" fill="#fdbfbf" />
<line x1="1082.90" y1="439.80" x2="1082.90" y2="506.40" stroke="#3f3f3f" stroke-width="1.9" />
<polygon points="1082.90,437.80 1088.10,446.60 1077.70,446.60" fill="#3f3f3f"/>
<polygon points="1082.90,508.40 1088.10,499.60 1077.70,499.60" fill="#3f3f3f"/>
<line x1="1133.80" y1="468.20" x2="1133.80" y2="532.10" stroke="#3f3f3f" stroke-width="1.9" />
<polygon points="1133.80,466.20 1139.00,475.00 1128.60,475.00" fill="#3f3f3f"/>
<polygon points="1133.80,534.10 1139.00,525.30 1128.60,525.30" fill="#3f3f3f"/>
<polygon points="1108.00,458.15 1113.20,466.95 1102.80,466.95" fill="#3f3f3f"/>
<polygon points="1108.00,469.85 1113.20,461.05 1102.80,461.05" fill="#3f3f3f"/>
<polygon points="1082.90,592.35 1088.10,601.15 1077.70,601.15" fill="#b9b9b9"/>
<polygon points="1082.90,604.05 1088.10,595.25 1077.70,595.25" fill="#b9b9b9"/>
<polygon points="1133.40,591.55 1138.60,600.35 1128.20,600.35" fill="#b9b9b9"/>
<polygon points="1133.40,603.25 1138.60,594.45 1128.20,594.45" fill="#b9b9b9"/>
<line x1="1108.00" y1="594.30" x2="1108.00" y2="638.00" stroke="#b9b9b9" stroke-width="1.8" />
<polygon points="1108.00,602.10 1113.20,593.30 1102.80,593.30" fill="#b9b9b9"/>
<polygon points="1108.00,630.20 1113.20,639.00 1102.80,639.00" fill="#b9b9b9"/>
<rect x="1176.90" y="470.20" width="14.60" height="77.50" fill="#6173fc" />
<rect x="1202.00" y="464.00" width="14.60" height="83.70" fill="#e6ae2f" />
<rect x="1227.40" y="497.80" width="14.60" height="49.90" fill="#e0686a" />
<rect x="1176.90" y="547.70" width="14.60" height="50.00" fill="#8f9dfd" />
<rect x="1202.00" y="547.70" width="14.60" height="61.30" fill="#f3d795" />
<rect x="1227.40" y="547.70" width="14.60" height="49.00" fill="#fdbfbf" />
<line x1="1184.20" y1="429.10" x2="1184.20" y2="505.50" stroke="#3f3f3f" stroke-width="1.9" />
<polygon points="1184.20,427.10 1189.40,435.90 1179.00,435.90" fill="#3f3f3f"/>
<polygon points="1184.20,507.50 1189.40,498.70 1179.00,498.70" fill="#3f3f3f"/>
<line x1="1235.10" y1="458.20" x2="1235.10" y2="531.70" stroke="#3f3f3f" stroke-width="1.9" />
<polygon points="1235.10,456.20 1240.30,465.00 1229.90,465.00" fill="#3f3f3f"/>
<polygon points="1235.10,533.70 1240.30,524.90 1229.90,524.90" fill="#3f3f3f"/>
<polygon points="1209.30,458.15 1214.50,466.95 1204.10,466.95" fill="#3f3f3f"/>
<polygon points="1209.30,469.85 1214.50,461.05 1204.10,461.05" fill="#3f3f3f"/>
<polygon points="1184.20,592.35 1189.40,601.15 1179.00,601.15" fill="#b9b9b9"/>
<polygon points="1184.20,604.05 1189.40,595.25 1179.00,595.25" fill="#b9b9b9"/>
<polygon points="1234.70,591.55 1239.90,600.35 1229.50,600.35" fill="#b9b9b9"/>
<polygon points="1234.70,603.25 1239.90,594.45 1229.50,594.45" fill="#b9b9b9"/>
<line x1="1209.30" y1="593.50" x2="1209.30" y2="627.40" stroke="#b9b9b9" stroke-width="1.8" />
<polygon points="1209.30,601.30 1214.50,592.50 1204.10,592.50" fill="#b9b9b9"/>
<polygon points="1209.30,619.60 1214.50,628.40 1204.10,628.40" fill="#b9b9b9"/>
<rect x="1278.30" y="465.10" width="14.60" height="82.60" fill="#6173fc" />
<rect x="1303.40" y="464.00" width="14.60" height="83.70" fill="#e6ae2f" />
<rect x="1328.80" y="492.30" width="14.60" height="55.40" fill="#e0686a" />
<rect x="1278.30" y="547.70" width="14.60" height="50.00" fill="#8f9dfd" />
<rect x="1303.40" y="547.70" width="14.60" height="56.00" fill="#f3d795" />
<rect x="1328.80" y="547.70" width="14.60" height="49.00" fill="#fdbfbf" />
<line x1="1285.60" y1="418.50" x2="1285.60" y2="505.20" stroke="#3f3f3f" stroke-width="1.9" />
<polygon points="1285.60,416.50 1290.80,425.30 1280.40,425.30" fill="#3f3f3f"/>
<polygon points="1285.60,507.20 1290.80,498.40 1280.40,498.40" fill="#3f3f3f"/>
<line x1="1336.50" y1="447.70" x2="1336.50" y2="531.10" stroke="#3f3f3f" stroke-width="1.9" />
<polygon points="1336.50,445.70 1341.70,454.50 1331.30,454.50" fill="#3f3f3f"/>
<polygon points="1336.50,533.10 1341.70,524.30 1331.30,524.30" fill="#3f3f3f"/>
<polygon points="1310.70,458.15 1315.90,466.95 1305.50,466.95" fill="#3f3f3f"/>
<polygon points="1310.70,469.85 1315.90,461.05 1305.50,461.05" fill="#3f3f3f"/>
<polygon points="1285.60,592.35 1290.80,601.15 1280.40,601.15" fill="#b9b9b9"/>
<polygon points="1285.60,604.05 1290.80,595.25 1280.40,595.25" fill="#b9b9b9"/>
<polygon points="1336.10,591.55 1341.30,600.35 1330.90,600.35" fill="#b9b9b9"/>
<polygon points="1336.10,603.25 1341.30,594.45 1330.90,594.45" fill="#b9b9b9"/>
<line x1="1310.70" y1="592.80" x2="1310.70" y2="616.60" stroke="#b9b9b9" stroke-width="1.8" />
<polygon points="1310.70,600.60 1315.90,591.80 1305.50,591.80" fill="#b9b9b9"/>
<polygon points="1310.70,608.80 1315.90,617.60 1305.50,617.60" fill="#b9b9b9"/>
<rect x="1380.00" y="459.90" width="14.60" height="87.80" fill="#6173fc" />
<rect x="1405.10" y="464.00" width="14.60" height="83.70" fill="#e6ae2f" />
<rect x="1430.50" y="487.50" width="14.60" height="60.20" fill="#e0686a" />
<rect x="1380.00" y="547.70" width="14.60" height="50.00" fill="#8f9dfd" />
<rect x="1405.10" y="547.70" width="14.60" height="50.20" fill="#f3d795" />
<rect x="1430.50" y="547.70" width="14.60" height="49.00" fill="#fdbfbf" />
<line x1="1387.30" y1="408.00" x2="1387.30" y2="504.50" stroke="#3f3f3f" stroke-width="1.9" />
<polygon points="1387.30,406.00 1392.50,414.80 1382.10,414.80" fill="#3f3f3f"/>
<polygon points="1387.30,506.50 1392.50,497.70 1382.10,497.70" fill="#3f3f3f"/>
<line x1="1438.20" y1="437.60" x2="1438.20" y2="530.60" stroke="#3f3f3f" stroke-width="1.9" />
<polygon points="1438.20,435.60 1443.40,444.40 1433.00,444.40" fill="#3f3f3f"/>
<polygon points="1438.20,532.60 1443.40,523.80 1433.00,523.80" fill="#3f3f3f"/>
<polygon points="1412.40,458.15 1417.60,466.95 1407.20,466.95" fill="#3f3f3f"/>
<polygon points="1412.40,469.85 1417.60,461.05 1407.20,461.05" fill="#3f3f3f"/>
<polygon points="1387.30,592.35 1392.50,601.15 1382.10,601.15" fill="#b9b9b9"/>
<polygon points="1387.30,604.05 1392.50,595.25 1382.10,595.25" fill="#b9b9b9"/>
<polygon points="1437.80,591.55 1443.00,600.35 1432.60,600.35" fill="#b9b9b9"/>
<polygon points="1437.80,603.25 1443.00,594.45 1432.60,594.45" fill="#b9b9b9"/>
<line x1="1412.40" y1="592.20" x2="1412.40" y2="605.70" stroke="#b9b9b9" stroke-width="1.8" />
<polygon points="1412.40,600.00 1417.60,591.20 1407.20,591.20" fill="#b9b9b9"/>
<polygon points="1412.40,597.90 1417.60,606.70 1407.20,606.70" fill="#b9b9b9"/>
<line x1="853.00" y1="387.80" x2="858.00" y2="387.80" stroke="#000" stroke-width="1.3" />
<line x1="1457.90" y1="387.80" x2="1462.90" y2="387.80" stroke="#000" stroke-width="1.3" />
<line x1="853.00" y1="441.10" x2="858.00" y2="441.10" stroke="#000" stroke-width="1.3" />
<line x1="1457.90" y1="441.10" x2="1462.90" y2="441.10" stroke="#000" stroke-width="1.3" />
<line x1="853.00" y1="494.40" x2="858.00" y2="494.40" stroke="#000" stroke-width="1.3" />
<line x1="1457.90" y1="494.40" x2="1462.90" y2="494.40" stroke="#000" stroke-width="1.3" />
<line x1="853.00" y1="547.70" x2="858.00" y2="547.70" stroke="#000" stroke-width="1.3" />
<line x1="1457.90" y1="547.70" x2="1462.90" y2="547.70" stroke="#000" stroke-width="1.3" />
<line x1="853.00" y1="601.00" x2="858.00" y2="601.00" stroke="#000" stroke-width="1.3" />
<line x1="1457.90" y1="601.00" x2="1462.90" y2="601.00" stroke="#000" stroke-width="1.3" />
<line x1="853.00" y1="654.30" x2="858.00" y2="654.30" stroke="#000" stroke-width="1.3" />
<line x1="1457.90" y1="654.30" x2="1462.90" y2="654.30" stroke="#000" stroke-width="1.3" />
<line x1="853.00" y1="707.60" x2="858.00" y2="707.60" stroke="#000" stroke-width="1.3" />
<line x1="1457.90" y1="707.60" x2="1462.90" y2="707.60" stroke="#000" stroke-width="1.3" />
<line x1="955.10" y1="724.50" x2="955.10" y2="733.50" stroke="#000" stroke-width="1.8" />
<line x1="1056.70" y1="724.50" x2="1056.70" y2="733.50" stroke="#000" stroke-width="1.8" />
<line x1="1158.30" y1="724.50" x2="1158.30" y2="733.50" stroke="#000" stroke-width="1.8" />
<line x1="1259.90" y1="724.50" x2="1259.90" y2="733.50" stroke="#000" stroke-width="1.8" />
<line x1="1361.50" y1="724.50" x2="1361.50" y2="733.50" stroke="#000" stroke-width="1.8" />
<rect x="853.0" y="362.0" width="609.90" height="371.50" fill="none" stroke="#000" stroke-width="4"/>
<linearGradient id="gc1" gradientUnits="userSpaceOnUse" x1="0" y1="488.30" x2="0" y2="469.20"><stop offset="0" stop-color="#c4c4c4" stop-opacity="0.05"/><stop offset="0.75" stop-color="#c4c4c4" stop-opacity="1"/><stop offset="1" stop-color="#c4c4c4" stop-opacity="1"/></linearGradient>
<polygon points="129.60,488.30 129.60,474.80 127.10,474.80 132.20,469.20 137.30,474.80 134.80,474.80 134.80,488.30" fill="url(#gc1)"/>
<linearGradient id="gc2" gradientUnits="userSpaceOnUse" x1="0" y1="488.30" x2="0" y2="469.20"><stop offset="0" stop-color="#c4c4c4" stop-opacity="0.05"/><stop offset="0.75" stop-color="#c4c4c4" stop-opacity="1"/><stop offset="1" stop-color="#c4c4c4" stop-opacity="1"/></linearGradient>
<polygon points="176.60,488.30 176.60,474.80 174.10,474.80 179.20,469.20 184.30,474.80 181.80,474.80 181.80,488.30" fill="url(#gc2)"/>
<linearGradient id="gc3" gradientUnits="userSpaceOnUse" x1="0" y1="667.60" x2="0" y2="688.50"><stop offset="0" stop-color="#c4c4c4" stop-opacity="0.05"/><stop offset="0.75" stop-color="#c4c4c4" stop-opacity="1"/><stop offset="1" stop-color="#c4c4c4" stop-opacity="1"/></linearGradient>
<polygon points="152.10,667.60 152.10,682.90 149.60,682.90 154.70,688.50 159.80,682.90 157.30,682.90 157.30,667.60" fill="url(#gc3)"/>
<linearGradient id="gd1" gradientUnits="userSpaceOnUse" x1="0" y1="486.60" x2="0" y2="466.90"><stop offset="0" stop-color="#c4c4c4" stop-opacity="0.05"/><stop offset="0.75" stop-color="#c4c4c4" stop-opacity="1"/><stop offset="1" stop-color="#c4c4c4" stop-opacity="1"/></linearGradient>
<polygon points="867.30,486.60 867.30,472.50 864.80,472.50 869.90,466.90 875.00,472.50 872.50,472.50 872.50,486.60" fill="url(#gd1)"/>
<linearGradient id="gd2" gradientUnits="userSpaceOnUse" x1="0" y1="513.20" x2="0" y2="493.00"><stop offset="0" stop-color="#c4c4c4" stop-opacity="0.05"/><stop offset="0.75" stop-color="#c4c4c4" stop-opacity="1"/><stop offset="1" stop-color="#c4c4c4" stop-opacity="1"/></linearGradient>
<polygon points="917.30,513.20 917.30,498.60 914.80,498.60 919.90,493.00 925.00,498.60 922.50,498.60 922.50,513.20" fill="url(#gd2)"/>
<linearGradient id="gd3" gradientUnits="userSpaceOnUse" x1="0" y1="629.10" x2="0" y2="649.40"><stop offset="0" stop-color="#c4c4c4" stop-opacity="0.05"/><stop offset="0.75" stop-color="#c4c4c4" stop-opacity="1"/><stop offset="1" stop-color="#c4c4c4" stop-opacity="1"/></linearGradient>
<polygon points="893.40,629.10 893.40,643.80 890.90,643.80 896.00,649.40 901.10,643.80 898.60,643.80 898.60,629.10" fill="url(#gd3)"/>
<text x="7.00" y="28.80" font-size="36.5" text-anchor="start" fill="#000" font-weight="bold" >a</text>
<text x="746.50" y="28.80" font-size="36.5" text-anchor="start" fill="#000" font-weight="bold" >b</text>
<text x="8.00" y="372.30" font-size="36.5" text-anchor="start" fill="#000" font-weight="bold" >c</text>
<text x="746.50" y="372.30" font-size="36.5" text-anchor="start" fill="#000" font-weight="bold" >d</text>
<text x="6.00" y="948.90" font-size="36.5" text-anchor="start" fill="#000" font-weight="bold" >e</text>
<text x="751.00" y="948.90" font-size="36.5" text-anchor="start" fill="#000" font-weight="bold" >f</text>
<text x="6.00" y="1318.90" font-size="36.5" text-anchor="start" fill="#000" font-weight="bold" >g</text>
<text x="746.50" y="1318.90" font-size="36.5" text-anchor="start" fill="#000" font-weight="bold" >h</text>
<text x="410.40" y="19.80" font-size="25.5" text-anchor="middle" fill="#000" font-weight="normal" >NMC</text>
<text x="1147.00" y="20.20" font-size="25.5" text-anchor="middle" fill="#000" font-weight="normal" >LFP</text>
<text x="105.60" y="34.20" font-size="25" text-anchor="end" fill="#000" font-weight="normal" >40</text>
<text x="105.60" y="121.50" font-size="25" text-anchor="end" fill="#000" font-weight="normal" >20</text>
<text x="105.60" y="207.50" font-size="25" text-anchor="end" fill="#000" font-weight="normal" >0</text>
<text x="105.60" y="295.00" font-size="25" text-anchor="end" fill="#000" font-weight="normal" >-20</text>
<text transform="translate(24.50,163.50) rotate(-90)" font-size="25.3" text-anchor="middle">Unit battery profit</text>
<text transform="translate(55.50,158.20) rotate(-90)" font-size="25.3" text-anchor="middle">($/kWh battery)</text>
<text x="164.70" y="311.60" font-size="25" text-anchor="middle" fill="#000" font-weight="normal" >40</text>
<text x="162.30" y="761.20" font-size="25" text-anchor="middle" fill="#000" font-weight="normal" >40</text>
<text x="265.45" y="311.60" font-size="25" text-anchor="middle" fill="#000" font-weight="normal" >50</text>
<text x="263.04" y="761.20" font-size="25" text-anchor="middle" fill="#000" font-weight="normal" >50</text>
<text x="366.20" y="311.60" font-size="25" text-anchor="middle" fill="#000" font-weight="normal" >60</text>
<text x="363.78" y="761.20" font-size="25" text-anchor="middle" fill="#000" font-weight="normal" >60</text>
<text x="466.95" y="311.60" font-size="25" text-anchor="middle" fill="#000" font-weight="normal" >70</text>
<text x="464.52" y="761.20" font-size="25" text-anchor="middle" fill="#000" font-weight="normal" >70</text>
<text x="567.70" y="311.60" font-size="25" text-anchor="middle" fill="#000" font-weight="normal" >80</text>
<text x="565.26" y="761.20" font-size="25" text-anchor="middle" fill="#000" font-weight="normal" >80</text>
<text x="668.45" y="311.60" font-size="25" text-anchor="middle" fill="#000" font-weight="normal" >90</text>
<text x="666.00" y="761.20" font-size="25" text-anchor="middle" fill="#000" font-weight="normal" >90</text>
<text x="416.80" y="342.10" font-size="25.8" text-anchor="middle" fill="#000" font-weight="normal" >SOH at EOL stage (%)</text>
<text x="414.90" y="791.10" font-size="25.8" text-anchor="middle" fill="#000" font-weight="normal" >SOH at EOL stage (%)</text>
<text x="106.20" y="396.50" font-size="25" text-anchor="end" fill="#000" font-weight="normal" >60</text>
<text x="106.20" y="450.00" font-size="25" text-anchor="end" fill="#000" font-weight="normal" >40</text>
<text x="106.20" y="503.50" font-size="25" text-anchor="end" fill="#000" font-weight="normal" >20</text>
<text x="106.20" y="557.00" font-size="25" text-anchor="end" fill="#000" font-weight="normal" >0</text>
<text x="106.20" y="610.50" font-size="25" text-anchor="end" fill="#000" font-weight="normal" >-20</text>
<text x="106.20" y="664.00" font-size="25" text-anchor="end" fill="#000" font-weight="normal" >-40</text>
<text x="106.20" y="717.50" font-size="25" text-anchor="end" fill="#000" font-weight="normal" >-60</text>
<text transform="translate(26.90,548.00) rotate(-90)" font-size="25.6" text-anchor="middle">Unit battery cost / revenue</text>
<text transform="translate(56.20,546.10) rotate(-90)" font-size="25.3" text-anchor="middle">($/kWh battery)</text>
<text x="847.50" y="34.20" font-size="25" text-anchor="end" fill="#000" font-weight="normal" >40</text>
<text x="847.50" y="121.80" font-size="25" text-anchor="end" fill="#000" font-weight="normal" >20</text>
<text x="847.50" y="207.80" font-size="25" text-anchor="end" fill="#000" font-weight="normal" >0</text>
<text x="847.50" y="295.00" font-size="25" text-anchor="end" fill="#000" font-weight="normal" >-20</text>
<text transform="translate(766.70,164.70) rotate(-90)" font-size="25.3" text-anchor="middle">Unit battery profit</text>
<text transform="translate(796.90,159.60) rotate(-90)" font-size="25.3" text-anchor="middle">($/kWh battery)</text>
<text x="906.00" y="311.60" font-size="25" text-anchor="middle" fill="#000" font-weight="normal" >40</text>
<text x="904.50" y="760.60" font-size="25" text-anchor="middle" fill="#000" font-weight="normal" >40</text>
<text x="1006.85" y="311.60" font-size="25" text-anchor="middle" fill="#000" font-weight="normal" >50</text>
<text x="1005.24" y="760.60" font-size="25" text-anchor="middle" fill="#000" font-weight="normal" >50</text>
<text x="1107.70" y="311.60" font-size="25" text-anchor="middle" fill="#000" font-weight="normal" >60</text>
<text x="1105.98" y="760.60" font-size="25" text-anchor="middle" fill="#000" font-weight="normal" >60</text>
<text x="1208.55" y="311.60" font-size="25" text-anchor="middle" fill="#000" font-weight="normal" >70</text>
<text x="1206.72" y="760.60" font-size="25" text-anchor="middle" fill="#000" font-weight="normal" >70</text>
<text x="1309.40" y="311.60" font-size="25" text-anchor="middle" fill="#000" font-weight="normal" >80</text>
<text x="1307.46" y="760.60" font-size="25" text-anchor="middle" fill="#000" font-weight="normal" >80</text>
<text x="1410.25" y="311.60" font-size="25" text-anchor="middle" fill="#000" font-weight="normal" >90</text>
<text x="1408.20" y="760.60" font-size="25" text-anchor="middle" fill="#000" font-weight="normal" >90</text>
<text x="1158.40" y="342.10" font-size="25.8" text-anchor="middle" fill="#000" font-weight="normal" >SOH at EOL stage (%)</text>
<text x="1155.80" y="790.80" font-size="25.8" text-anchor="middle" fill="#000" font-weight="normal" >SOH at EOL stage (%)</text>
<text x="847.20" y="396.50" font-size="25" text-anchor="end" fill="#000" font-weight="normal" >60</text>
<text x="847.20" y="449.80" font-size="25" text-anchor="end" fill="#000" font-weight="normal" >40</text>
<text x="847.20" y="503.10" font-size="25" text-anchor="end" fill="#000" font-weight="normal" >20</text>
<text x="847.20" y="556.40" font-size="25" text-anchor="end" fill="#000" font-weight="normal" >0</text>
<text x="847.20" y="609.70" font-size="25" text-anchor="end" fill="#000" font-weight="normal" >-20</text>
<text x="847.20" y="663.00" font-size="25" text-anchor="end" fill="#000" font-weight="normal" >-40</text>
<text x="847.20" y="716.30" font-size="25" text-anchor="end" fill="#000" font-weight="normal" >-60</text>
<text transform="translate(768.10,550.50) rotate(-90)" font-size="25.4" text-anchor="middle">Unit battery cost / revenue</text>
<text transform="translate(797.50,546.10) rotate(-90)" font-size="25.3" text-anchor="middle">($/kWh battery)</text>
<rect x="43.50" y="813.70" width="19.50" height="21.00" fill="#0016c1" />
<rect x="43.50" y="845.60" width="19.50" height="21.70" fill="#a67c17" />
<rect x="43.50" y="877.70" width="19.50" height="21.30" fill="#8b0202" />
<text x="68.80" y="832.50" font-size="25.5" text-anchor="start" fill="#000" font-weight="normal" >Hydro- recycling (profit)</text>
<text x="68.80" y="862.10" font-size="25.5" text-anchor="start" fill="#000" font-weight="normal" >Direct recycling (profit)</text>
<text x="68.80" y="893.70" font-size="25.5" text-anchor="start" fill="#000" font-weight="normal" >Pyro- recycling (profit)</text>
<rect x="355.80" y="816.30" width="15.20" height="20.60" fill="#b8c1fd" />
<rect x="355.80" y="846.30" width="15.20" height="20.10" fill="#f3d795" />
<rect x="355.80" y="875.10" width="15.20" height="20.00" fill="#fdbfbf" />
<text x="378.60" y="834.80" font-size="25.5" text-anchor="start" fill="#000" font-weight="normal" >Hydro- recycling (cost)</text>
<text x="378.60" y="864.80" font-size="25.5" text-anchor="start" fill="#000" font-weight="normal" >Direct recycling (cost)</text>
<text x="378.60" y="895.80" font-size="25.5" text-anchor="start" fill="#000" font-weight="normal" >Pyro- recycling (cost)</text>
<rect x="650.40" y="816.50" width="15.40" height="20.10" fill="#6173fc" />
<rect x="650.40" y="846.10" width="15.40" height="20.00" fill="#e6ae2f" />
<rect x="650.40" y="875.80" width="15.40" height="19.60" fill="#e0686a" />
<text x="670.80" y="834.30" font-size="25.5" text-anchor="start" fill="#000" font-weight="normal" >Hydro- recycling (revenue)</text>
<text x="670.80" y="864.60" font-size="25.5" text-anchor="start" fill="#000" font-weight="normal" >Direct recycling (revenue)</text>
<text x="670.80" y="894.60" font-size="25.5" text-anchor="start" fill="#000" font-weight="normal" >Pyro- recycling (revenue)</text>
<polygon points="998.2,818.7 1006.8,835 989.7,835" fill="#000"/>
<polygon points="998.2,865.4 1006.8,849.6 989.7,849.6" fill="#000"/>
<line x1="997.90" y1="877.80" x2="997.90" y2="896.40" stroke="#000" stroke-width="2.2" />
<text x="1011.00" y="835.10" font-size="25.5" text-anchor="start" fill="#000" font-weight="normal" >Results with maximum price of Li<tspan font-size="16" dy="4.7">2</tspan><tspan dy="-4.7">CO</tspan><tspan font-size="16" dy="4.7">3</tspan><tspan dy="-4.7"></tspan></text>
<text x="1011.00" y="865.30" font-size="25.5" text-anchor="start" fill="#000" font-weight="normal" >Results with minimum price of Li<tspan font-size="16" dy="4.7">2</tspan><tspan dy="-4.7">CO</tspan><tspan font-size="16" dy="4.7">3</tspan><tspan dy="-4.7"></tspan></text>
<text x="1011.00" y="895.30" font-size="25.5" text-anchor="start" fill="#000" font-weight="normal" >Variation range of results</text>
<path d="M351.00,961.30 A137.9,137.9 0 0 1 399.07,1228.45 L377.98,1171.75 A77.4,77.4 0 0 0 351.00,1021.80 Z" fill="#f3d795"/>
<path d="M399.07,1228.45 A137.9,137.9 0 1 1 351.00,961.30 L351.00,1021.80 A77.4,77.4 0 1 0 377.98,1171.75 Z" fill="#e6ae2f"/>
<circle cx="351" cy="1099.2" r="107.3" fill="none" stroke="#fff" stroke-width="1.25" stroke-opacity="0.95"/>
<line x1="351.00" y1="1021.80" x2="351.00" y2="961.30" stroke="#fff" stroke-width="1.3" />
<line x1="377.98" y1="1171.75" x2="399.07" y2="1228.45" stroke="#fff" stroke-width="1.3" />
<line x1="458.25" y1="1102.57" x2="488.83" y2="1103.53" stroke="#fff" stroke-width="1.25" stroke-opacity="0.95"/>
<line x1="412.70" y1="1186.99" x2="430.29" y2="1212.02" stroke="#fff" stroke-width="1.25" stroke-opacity="0.95"/>
<line x1="407.54" y1="1190.39" x2="423.67" y2="1216.40" stroke="#fff" stroke-width="1.25" stroke-opacity="0.95"/>
<line x1="404.00" y1="1192.50" x2="419.11" y2="1219.10" stroke="#fff" stroke-width="1.25" stroke-opacity="0.95"/>
<line x1="400.71" y1="1194.29" x2="414.89" y2="1221.41" stroke="#fff" stroke-width="1.25" stroke-opacity="0.95"/>
<line x1="398.04" y1="1195.64" x2="411.45" y2="1223.14" stroke="#fff" stroke-width="1.0" stroke-opacity="0.95"/>
<line x1="395.84" y1="1196.68" x2="408.62" y2="1224.48" stroke="#fff" stroke-width="1.0" stroke-opacity="0.95"/>
<line x1="393.96" y1="1197.53" x2="406.21" y2="1225.57" stroke="#fff" stroke-width="1.0" stroke-opacity="0.95"/>
<line x1="392.23" y1="1198.26" x2="403.99" y2="1226.51" stroke="#fff" stroke-width="1.0" stroke-opacity="0.95"/>
<line x1="390.67" y1="1198.90" x2="401.99" y2="1227.33" stroke="#fff" stroke-width="1.0" stroke-opacity="0.95"/>
<line x1="389.45" y1="1199.37" x2="400.42" y2="1227.94" stroke="#fff" stroke-width="1.0" stroke-opacity="0.95"/>
<line x1="297.35" y1="1006.28" x2="282.05" y2="979.78" stroke="#fff" stroke-width="1.25" stroke-opacity="0.95"/>
<line x1="325.77" y1="994.91" x2="318.57" y2="965.17" stroke="#fff" stroke-width="1.25" stroke-opacity="0.95"/>
<line x1="345.38" y1="992.05" x2="343.78" y2="961.49" stroke="#fff" stroke-width="1.25" stroke-opacity="0.95"/>
<line x1="347.44" y1="991.96" x2="346.43" y2="961.38" stroke="#fff" stroke-width="1.0" stroke-opacity="0.95"/>
<line x1="349.31" y1="991.91" x2="348.83" y2="961.32" stroke="#fff" stroke-width="1.0" stroke-opacity="0.95"/>
<polyline points="292.4,944.3 302.5,944.3 333.3,965.7" fill="none" stroke="#000" stroke-width="2.5" stroke-linejoin="miter"/>
<polyline points="270.6,973.0 301.2,973.0" fill="none" stroke="#000" stroke-width="2.5" stroke-linejoin="miter"/>
<polyline points="197.0,1073.8 215.9,1073.8 247.2,1115.6" fill="none" stroke="#000" stroke-width="2.5" stroke-linejoin="miter"/>
<polyline points="215.1,1184.8 227.2,1184.8 232.9,1166.5" fill="none" stroke="#000" stroke-width="2.5" stroke-linejoin="miter"/>
<polyline points="449.1,1006.5 461.6,992.2 470.8,992.2" fill="none" stroke="#000" stroke-width="2.5" stroke-linejoin="miter"/>
<polyline points="451.6,1069.3 477.4,1038.7 496.8,1038.7" fill="none" stroke="#000" stroke-width="2.5" stroke-linejoin="miter"/>
<polyline points="469.6,1163.2 486.0,1143.3 495.0,1143.3" fill="none" stroke="#000" stroke-width="2.5" stroke-linejoin="miter"/>
<polyline points="427.7,1211.2 462.9,1197.4 472.4,1197.4" fill="none" stroke="#000" stroke-width="2.5" stroke-linejoin="miter"/>
<polyline points="420.2,1217.2 446.6,1225.8 457.3,1225.8" fill="none" stroke="#000" stroke-width="2.5" stroke-linejoin="miter"/>
<polyline points="414.4,1219.2 435.8,1251.6 444.5,1251.6" fill="none" stroke="#000" stroke-width="2.5" stroke-linejoin="miter"/>
<text x="288.60" y="953.70" font-size="25.25" text-anchor="end" fill="#000" font-weight="normal" >Copper 3.0%</text>
<text x="267.80" y="981.60" font-size="25.25" text-anchor="end" fill="#000" font-weight="normal" >Graphite 4.5%</text>
<text x="192.80" y="1083.80" font-size="25.25" text-anchor="end" fill="#e6ae2f" font-weight="normal" >Revenue 56.3%</text>
<text x="211.20" y="1194.00" font-size="25.25" text-anchor="end" fill="#000" font-weight="normal" >NMC622 47.4%</text>
<text x="473.60" y="1002.10" font-size="25.25" text-anchor="start" fill="#000" font-weight="normal" >Degraded NMC 25.5%</text>
<text x="499.60" y="1046.50" font-size="25.25" text-anchor="start" fill="#e6ae2f" font-weight="normal" >Cost 43.7%</text>
<text x="498.60" y="1154.50" font-size="25.25" text-anchor="start" fill="#000" font-weight="normal" >Li<tspan font-size="16" dy="4.7">2</tspan><tspan dy="-4.7">CO</tspan><tspan font-size="16" dy="4.7">3</tspan><tspan dy="-4.7"> 14.7%</tspan></text>
<text x="478.60" y="1204.70" font-size="25.25" text-anchor="start" fill="#000" font-weight="normal" >Labor 1.0%</text>
<text x="461.60" y="1232.80" font-size="25.25" text-anchor="start" fill="#000" font-weight="normal" >Disassemble 0.6%</text>
<text x="448.20" y="1260.70" font-size="25.25" text-anchor="start" fill="#000" font-weight="normal" >Electricity 0.5%</text>
<text x="350.90" y="1074.20" font-size="25.3" text-anchor="middle" fill="#000" font-weight="normal" >NMC</text>
<text x="350.90" y="1104.70" font-size="25.3" text-anchor="middle" fill="#000" font-weight="normal" >40% SOH</text>
<text x="350.90" y="1135.20" font-size="25.3" text-anchor="middle" fill="#000" font-weight="normal" >Direct</text>
<path d="M1098.80,961.50 A137.9,137.9 0 0 1 1201.44,1191.49 L1156.41,1151.09 A77.4,77.4 0 0 0 1098.80,1022.00 Z" fill="#f3d795"/>
<path d="M1201.44,1191.49 A137.9,137.9 0 1 1 1098.80,961.50 L1098.80,1022.00 A77.4,77.4 0 1 0 1156.41,1151.09 Z" fill="#e6ae2f"/>
<circle cx="1098.8" cy="1099.4" r="107.3" fill="none" stroke="#fff" stroke-width="1.25" stroke-opacity="0.95"/>
<line x1="1098.80" y1="1022.00" x2="1098.80" y2="961.50" stroke="#fff" stroke-width="1.3" />
<line x1="1156.41" y1="1151.09" x2="1201.44" y2="1191.49" stroke="#fff" stroke-width="1.3" />
<line x1="1202.54" y1="1126.81" x2="1232.12" y2="1134.63" stroke="#fff" stroke-width="1.25" stroke-opacity="0.95"/>
<line x1="1196.20" y1="1144.41" x2="1223.98" y2="1157.24" stroke="#fff" stroke-width="1.25" stroke-opacity="0.95"/>
<line x1="1192.83" y1="1151.09" x2="1219.64" y2="1165.83" stroke="#fff" stroke-width="1.25" stroke-opacity="0.95"/>
<line x1="1190.48" y1="1155.14" x2="1216.63" y2="1171.04" stroke="#fff" stroke-width="1.25" stroke-opacity="0.95"/>
<line x1="1188.28" y1="1158.62" x2="1213.79" y2="1175.51" stroke="#fff" stroke-width="1.25" stroke-opacity="0.95"/>
<line x1="1186.37" y1="1161.40" x2="1211.35" y2="1179.09" stroke="#fff" stroke-width="1.25" stroke-opacity="0.95"/>
<line x1="1184.94" y1="1163.37" x2="1209.51" y2="1181.62" stroke="#fff" stroke-width="1.0" stroke-opacity="0.95"/>
<line x1="1183.70" y1="1165.02" x2="1207.91" y2="1183.73" stroke="#fff" stroke-width="1.0" stroke-opacity="0.95"/>
<line x1="1182.54" y1="1166.49" x2="1206.42" y2="1185.62" stroke="#fff" stroke-width="1.0" stroke-opacity="0.95"/>
<line x1="1181.48" y1="1167.80" x2="1205.05" y2="1187.30" stroke="#fff" stroke-width="1.0" stroke-opacity="0.95"/>
<line x1="1180.51" y1="1168.94" x2="1203.82" y2="1188.78" stroke="#fff" stroke-width="1.0" stroke-opacity="0.95"/>
<line x1="1179.53" y1="1170.08" x2="1202.56" y2="1190.23" stroke="#fff" stroke-width="1.0" stroke-opacity="0.95"/>
<line x1="1038.80" y1="1010.44" x2="1021.69" y2="985.08" stroke="#fff" stroke-width="1.25" stroke-opacity="0.95"/>
<line x1="1069.94" y1="996.05" x2="1061.72" y2="966.58" stroke="#fff" stroke-width="1.25" stroke-opacity="0.95"/>
<line x1="1092.81" y1="992.27" x2="1091.10" y2="961.72" stroke="#fff" stroke-width="1.25" stroke-opacity="0.95"/>
<line x1="1095.06" y1="992.17" x2="1093.99" y2="961.58" stroke="#fff" stroke-width="1.0" stroke-opacity="0.95"/>
<line x1="1096.93" y1="992.12" x2="1096.39" y2="961.52" stroke="#fff" stroke-width="1.0" stroke-opacity="0.95"/>
<polyline points="1042.0,944.3 1051.2,944.3 1081.4,965.7" fill="none" stroke="#000" stroke-width="2.5" stroke-linejoin="miter"/>
<polyline points="1018.6,972.5 1029.4,972.5 1043.7,975.9" fill="none" stroke="#000" stroke-width="2.5" stroke-linejoin="miter"/>
<polyline points="945.1,1073.8 963.4,1073.8 995.3,1115.8" fill="none" stroke="#000" stroke-width="2.5" stroke-linejoin="miter"/>
<polyline points="961.6,1182.1 973.4,1182.1 980.2,1164.5" fill="none" stroke="#000" stroke-width="2.5" stroke-linejoin="miter"/>
<polyline points="1192.4,1001.5 1202.6,983.2 1211.4,983.2" fill="none" stroke="#000" stroke-width="2.5" stroke-linejoin="miter"/>
<polyline points="1200.6,1069.3 1226.5,1028.4 1245.8,1028.4" fill="none" stroke="#000" stroke-width="2.5" stroke-linejoin="miter"/>
<polyline points="1226.2,1145.2 1242.8,1122.6 1251.3,1122.6" fill="none" stroke="#000" stroke-width="2.5" stroke-linejoin="miter"/>
<polyline points="1220.7,1161.0 1242.1,1151.0 1250.3,1151.0" fill="none" stroke="#000" stroke-width="2.5" stroke-linejoin="miter"/>
<polyline points="1216.2,1169.0 1236.3,1180.3 1246.3,1180.3" fill="none" stroke="#000" stroke-width="2.5" stroke-linejoin="miter"/>
<polyline points="1213.9,1172.8 1233.3,1204.9 1242.8,1204.9" fill="none" stroke="#000" stroke-width="2.5" stroke-linejoin="miter"/>
<polyline points="1211.4,1177.8 1227.0,1236.3 1236.3,1236.3" fill="none" stroke="#000" stroke-width="2.5" stroke-linejoin="miter"/>
<text x="1036.80" y="953.70" font-size="25.25" text-anchor="end" fill="#000" font-weight="normal" >Copper 3.4%</text>
<text x="1013.20" y="981.60" font-size="25.25" text-anchor="end" fill="#000" font-weight="normal" >Graphite 5.1%</text>
<text x="939.90" y="1083.80" font-size="25.25" text-anchor="end" fill="#e6ae2f" font-weight="normal" >Revenue 63.5%</text>
<text x="956.40" y="1189.70" font-size="25.25" text-anchor="end" fill="#000" font-weight="normal" >NMC622 54.0%</text>
<text x="1214.60" y="991.30" font-size="25.25" text-anchor="start" fill="#000" font-weight="normal" >Degraded NMC 29.1%</text>
<text x="1248.20" y="1036.50" font-size="25.25" text-anchor="start" fill="#e6ae2f" font-weight="normal" >Cost 36.5%</text>
<text x="1255.20" y="1130.20" font-size="25.25" text-anchor="start" fill="#000" font-weight="normal" >Li<tspan font-size="16" dy="4.7">2</tspan><tspan dy="-4.7">CO</tspan><tspan font-size="16" dy="4.7">3</tspan><tspan dy="-4.7"> 2.8%</tspan></text>
<text x="1252.80" y="1157.80" font-size="25.25" text-anchor="start" fill="#000" font-weight="normal" >Labor 1.1%</text>
<text x="1250.00" y="1185.90" font-size="25.25" text-anchor="start" fill="#000" font-weight="normal" >Disassemble 0.7%</text>
<text x="1245.80" y="1214.80" font-size="25.25" text-anchor="start" fill="#000" font-weight="normal" >Electricity 0.6%</text>
<text x="1342.40" y="1243.70" font-size="25.25" text-anchor="middle" fill="#000" font-weight="normal" >Sewage treatment</text>
<text x="1341.50" y="1273.80" font-size="25.25" text-anchor="middle" fill="#000" font-weight="normal" >0.5%</text>
<text x="1096.70" y="1074.20" font-size="25.3" text-anchor="middle" fill="#000" font-weight="normal" >NMC</text>
<text x="1096.70" y="1104.70" font-size="25.3" text-anchor="middle" fill="#000" font-weight="normal" >90% SOH</text>
<text x="1096.70" y="1135.20" font-size="25.3" text-anchor="middle" fill="#000" font-weight="normal" >Direct</text>
<path d="M351.00,1316.30 A137.9,137.9 0 0 1 396.35,1584.43 L376.45,1527.29 A77.4,77.4 0 0 0 351.00,1376.80 Z" fill="#b8c1fd"/>
<path d="M396.35,1584.43 A137.9,137.9 0 1 1 351.00,1316.30 L351.00,1376.80 A77.4,77.4 0 1 0 376.45,1527.29 Z" fill="#6173fc"/>
<circle cx="351" cy="1454.2" r="107.3" fill="none" stroke="#fff" stroke-width="1.25" stroke-opacity="0.95"/>
<line x1="351.00" y1="1376.80" x2="351.00" y2="1316.30" stroke="#fff" stroke-width="1.3" />
<line x1="376.45" y1="1527.29" x2="396.35" y2="1584.43" stroke="#fff" stroke-width="1.3" />
<line x1="457.71" y1="1465.42" x2="488.14" y2="1468.61" stroke="#fff" stroke-width="1.25" stroke-opacity="0.95"/>
<line x1="450.35" y1="1494.74" x2="478.68" y2="1506.30" stroke="#fff" stroke-width="1.25" stroke-opacity="0.95"/>
<line x1="439.53" y1="1514.82" x2="464.78" y2="1532.11" stroke="#fff" stroke-width="1.25" stroke-opacity="0.95"/>
<line x1="430.49" y1="1526.28" x2="453.16" y2="1546.83" stroke="#fff" stroke-width="1.25" stroke-opacity="0.95"/>
<line x1="422.52" y1="1534.19" x2="442.91" y2="1557.00" stroke="#fff" stroke-width="1.25" stroke-opacity="0.95"/>
<line x1="408.81" y1="1544.60" x2="425.30" y2="1570.37" stroke="#fff" stroke-width="1.25" stroke-opacity="0.95"/>
<line x1="402.20" y1="1548.50" x2="416.80" y2="1575.39" stroke="#fff" stroke-width="1.25" stroke-opacity="0.95"/>
<line x1="394.98" y1="1552.07" x2="407.53" y2="1579.98" stroke="#fff" stroke-width="1.25" stroke-opacity="0.95"/>
<line x1="390.15" y1="1554.10" x2="401.32" y2="1582.59" stroke="#fff" stroke-width="1.25" stroke-opacity="0.95"/>
<line x1="388.23" y1="1554.84" x2="398.84" y2="1583.53" stroke="#fff" stroke-width="1.0" stroke-opacity="0.95"/>
<line x1="255.14" y1="1502.41" x2="227.80" y2="1516.16" stroke="#fff" stroke-width="1.25" stroke-opacity="0.95"/>
<line x1="269.65" y1="1384.23" x2="246.45" y2="1364.28" stroke="#fff" stroke-width="1.25" stroke-opacity="0.95"/>
<line x1="333.29" y1="1348.37" x2="328.24" y2="1318.19" stroke="#fff" stroke-width="1.25" stroke-opacity="0.95"/>
<line x1="341.65" y1="1347.31" x2="338.98" y2="1316.82" stroke="#fff" stroke-width="1.25" stroke-opacity="0.95"/>
<line x1="348.57" y1="1346.93" x2="347.87" y2="1316.34" stroke="#fff" stroke-width="1.0" stroke-opacity="0.95"/>
<polyline points="269.8,1322.6 278.6,1322.6 289.9,1333.9" fill="none" stroke="#000" stroke-width="2.5" stroke-linejoin="miter"/>
<polyline points="195.0,1396.2 205.8,1396.2 222.6,1415.5" fill="none" stroke="#000" stroke-width="2.5" stroke-linejoin="miter"/>
<polyline points="199.5,1431.8 215.9,1431.8 247.2,1472.1" fill="none" stroke="#000" stroke-width="2.5" stroke-linejoin="miter"/>
<polyline points="255.5,1583.4 264.8,1583.4 284.9,1574.3" fill="none" stroke="#000" stroke-width="2.5" stroke-linejoin="miter"/>
<polyline points="451.6,1363.5 463.6,1349.5 472.4,1349.5" fill="none" stroke="#000" stroke-width="2.5" stroke-linejoin="miter"/>
<polyline points="452.8,1425.5 478.7,1394.2 498.0,1394.2" fill="none" stroke="#000" stroke-width="2.5" stroke-linejoin="miter"/>
<polyline points="482.4,1491.0 500.5,1471.7 508.8,1471.7" fill="none" stroke="#000" stroke-width="2.5" stroke-linejoin="miter"/>
<polyline points="470.4,1519.9 496.3,1504.3 504.8,1504.3" fill="none" stroke="#000" stroke-width="2.5" stroke-linejoin="miter"/>
<polyline points="457.9,1539.9 472.2,1534.9" fill="none" stroke="#000" stroke-width="2.5" stroke-linejoin="miter"/>
<polyline points="447.1,1553.2 456.1,1567.5 465.4,1567.5" fill="none" stroke="#000" stroke-width="2.5" stroke-linejoin="miter"/>
<polyline points="432.8,1564.3 443.3,1596.9 452.3,1596.9" fill="none" stroke="#000" stroke-width="2.5" stroke-linejoin="miter"/>
<text x="263.60" y="1330.80" font-size="25.25" text-anchor="end" fill="#000" font-weight="normal" >Copper 10.5%</text>
<text x="188.80" y="1404.80" font-size="25.25" text-anchor="end" fill="#000" font-weight="normal" >Li<tspan font-size="16" dy="4.7">2</tspan><tspan dy="-4.7">CO</tspan><tspan font-size="16" dy="4.7">3</tspan><tspan dy="-4.7"> 17.7%</tspan></text>
<text x="195.00" y="1439.90" font-size="25.25" text-anchor="end" fill="#6173fc" font-weight="normal" >Revenue 54.3%</text>
<text x="249.80" y="1592.00" font-size="25.25" text-anchor="end" fill="#000" font-weight="normal" >FePO<tspan font-size="16" dy="4.7">4</tspan><tspan dy="-4.7"> 23.6%</tspan></text>
<text x="475.40" y="1359.10" font-size="25.25" text-anchor="start" fill="#000" font-weight="normal" >Degraded LFP 27.3%</text>
<text x="562.00" y="1402.30" font-size="25.25" text-anchor="middle" fill="#6173fc" font-weight="normal" >Cost</text>
<text x="561.60" y="1433.20" font-size="25.25" text-anchor="middle" fill="#6173fc" font-weight="normal" >45.7%</text>
<text x="511.60" y="1479.50" font-size="25.25" text-anchor="start" fill="#000" font-weight="normal" >Labor 4.7%</text>
<text x="508.00" y="1512.40" font-size="25.25" text-anchor="start" fill="#000" font-weight="normal" >Water 3.5%</text>
<text x="473.60" y="1543.00" font-size="25.25" text-anchor="start" fill="#000" font-weight="normal" >Sewage treatment 2.2%</text>
<text x="468.60" y="1575.70" font-size="25.25" text-anchor="start" fill="#000" font-weight="normal" >Disassemble 1.9%</text>
<text x="455.00" y="1606.30" font-size="25.25" text-anchor="start" fill="#000" font-weight="normal" >Electricity 1.7%</text>
<text x="351.10" y="1428.30" font-size="25.3" text-anchor="middle" fill="#000" font-weight="normal" >LFP</text>
<text x="351.10" y="1458.80" font-size="25.3" text-anchor="middle" fill="#000" font-weight="normal" >40% SOH</text>
<text x="351.10" y="1489.30" font-size="25.3" text-anchor="middle" fill="#000" font-weight="normal" >Hydro-</text>
<path d="M1098.90,1316.30 A137.9,137.9 0 0 1 1202.34,1545.39 L1156.96,1505.39 A77.4,77.4 0 0 0 1098.90,1376.80 Z" fill="#b8c1fd"/>
<path d="M1202.34,1545.39 A137.9,137.9 0 1 1 1098.90,1316.30 L1098.90,1376.80 A77.4,77.4 0 1 0 1156.96,1505.39 Z" fill="#6173fc"/>
<circle cx="1098.9" cy="1454.2" r="107.3" fill="none" stroke="#fff" stroke-width="1.25" stroke-opacity="0.95"/>
<line x1="1098.90" y1="1376.80" x2="1098.90" y2="1316.30" stroke="#fff" stroke-width="1.3" />
<line x1="1156.96" y1="1505.39" x2="1202.34" y2="1545.39" stroke="#fff" stroke-width="1.3" />
<line x1="1203.37" y1="1429.70" x2="1233.16" y2="1422.71" stroke="#fff" stroke-width="1.25" stroke-opacity="0.95"/>
<line x1="1206.20" y1="1454.39" x2="1236.80" y2="1454.44" stroke="#fff" stroke-width="1.25" stroke-opacity="0.95"/>
<line x1="1204.50" y1="1473.20" x2="1234.62" y2="1478.62" stroke="#fff" stroke-width="1.25" stroke-opacity="0.95"/>
<line x1="1201.83" y1="1484.50" x2="1231.19" y2="1493.13" stroke="#fff" stroke-width="1.25" stroke-opacity="0.95"/>
<line x1="1198.39" y1="1494.40" x2="1226.76" y2="1505.86" stroke="#fff" stroke-width="1.25" stroke-opacity="0.95"/>
<line x1="1193.02" y1="1505.73" x2="1219.86" y2="1520.42" stroke="#fff" stroke-width="1.25" stroke-opacity="0.95"/>
<line x1="1189.70" y1="1511.38" x2="1215.59" y2="1527.68" stroke="#fff" stroke-width="1.25" stroke-opacity="0.95"/>
<line x1="1186.04" y1="1516.81" x2="1210.89" y2="1534.67" stroke="#fff" stroke-width="1.25" stroke-opacity="0.95"/>
<line x1="1183.68" y1="1519.96" x2="1207.86" y2="1538.72" stroke="#fff" stroke-width="1.25" stroke-opacity="0.95"/>
<line x1="1181.93" y1="1522.16" x2="1205.61" y2="1541.54" stroke="#fff" stroke-width="1.0" stroke-opacity="0.95"/>
<line x1="1180.73" y1="1523.60" x2="1204.07" y2="1543.39" stroke="#fff" stroke-width="1.0" stroke-opacity="0.95"/>
<line x1="1065.56" y1="1556.19" x2="1056.06" y2="1585.28" stroke="#fff" stroke-width="1.25" stroke-opacity="0.95"/>
<line x1="1030.07" y1="1371.88" x2="1010.44" y2="1348.41" stroke="#fff" stroke-width="1.25" stroke-opacity="0.95"/>
<line x1="1084.52" y1="1347.87" x2="1080.42" y2="1317.54" stroke="#fff" stroke-width="1.25" stroke-opacity="0.95"/>
<line x1="1091.60" y1="1347.15" x2="1089.52" y2="1316.62" stroke="#fff" stroke-width="1.25" stroke-opacity="0.95"/>
<line x1="1097.59" y1="1346.91" x2="1097.22" y2="1316.31" stroke="#fff" stroke-width="1.0" stroke-opacity="0.95"/>
<polyline points="1023.6,1321.9 1033.2,1321.9 1043.7,1331.9" fill="none" stroke="#000" stroke-width="2.5" stroke-linejoin="miter"/>
<polyline points="949.6,1430.6 963.4,1430.6 995.5,1471.6" fill="none" stroke="#000" stroke-width="2.5" stroke-linejoin="miter"/>
<polyline points="949.6,1496.5 960.4,1496.5 965.9,1478.9" fill="none" stroke="#000" stroke-width="2.5" stroke-linejoin="miter"/>
<polyline points="1186.8,1350.7 1198.1,1336.4 1206.9,1336.4" fill="none" stroke="#000" stroke-width="2.5" stroke-linejoin="miter"/>
<polyline points="1193.9,1406.0 1218.2,1370.3 1236.5,1370.3" fill="none" stroke="#000" stroke-width="2.5" stroke-linejoin="miter"/>
<polyline points="1235.0,1438.6 1249.6,1428.6 1258.4,1428.6" fill="none" stroke="#000" stroke-width="2.5" stroke-linejoin="miter"/>
<polyline points="1235.0,1466.5 1249.4,1462.7 1259.0,1462.7" fill="none" stroke="#000" stroke-width="2.5" stroke-linejoin="miter"/>
<polyline points="1232.0,1486.7 1242.8,1490.2" fill="none" stroke="#000" stroke-width="2.5" stroke-linejoin="miter"/>
<polyline points="1227.5,1500.3 1248.3,1552.0 1253.3,1552.0" fill="none" stroke="#000" stroke-width="2.5" stroke-linejoin="miter"/>
<polyline points="1161.2,1576.3 1179.3,1583.9 1190.1,1583.9" fill="none" stroke="#000" stroke-width="2.5" stroke-linejoin="miter"/>
<text x="1019.00" y="1330.00" font-size="25.25" text-anchor="end" fill="#000" font-weight="normal" >Copper 8.6%</text>
<text x="945.80" y="1439.90" font-size="25.25" text-anchor="end" fill="#6173fc" font-weight="normal" >Revenue 62.2%</text>
<text x="942.60" y="1505.40" font-size="25.25" text-anchor="end" fill="#000" font-weight="normal" >Li<tspan font-size="16" dy="4.7">2</tspan><tspan dy="-4.7">CO</tspan><tspan font-size="16" dy="4.7">3</tspan><tspan dy="-4.7"> 32.4%</tspan></text>
<text x="1211.00" y="1344.10" font-size="25.25" text-anchor="start" fill="#000" font-weight="normal" >Degraded LFP 22.2%</text>
<text x="1239.80" y="1378.50" font-size="25.25" text-anchor="start" fill="#6173fc" font-weight="normal" >Cost 37.8%</text>
<text x="1263.60" y="1437.40" font-size="25.25" text-anchor="start" fill="#000" font-weight="normal" >Labor 3.8%</text>
<text x="1265.60" y="1470.60" font-size="25.25" text-anchor="start" fill="#000" font-weight="normal" >Water 2.9%</text>
<text x="1350.20" y="1499.10" font-size="25.25" text-anchor="middle" fill="#000" font-weight="normal" >Sewage treatment</text>
<text x="1350.40" y="1529.20" font-size="25.25" text-anchor="middle" fill="#000" font-weight="normal" >1.8%</text>
<text x="1256.20" y="1559.40" font-size="25.25" text-anchor="start" fill="#000" font-weight="normal" >Disassemble 1.5%</text>
<text x="1196.60" y="1592.00" font-size="25.25" text-anchor="start" fill="#000" font-weight="normal" >FePO<tspan font-size="16" dy="4.7">4</tspan><tspan dy="-4.7"> 19.3%</tspan></text>
<text x="1108.30" y="1428.30" font-size="25.3" text-anchor="middle" fill="#000" font-weight="normal" >LFP</text>
<text x="1108.30" y="1458.80" font-size="25.3" text-anchor="middle" fill="#000" font-weight="normal" >90% SOH</text>
<text x="1108.30" y="1489.30" font-size="25.3" text-anchor="middle" fill="#000" font-weight="normal" >Hydro-</text>
</svg>
</body></html>
